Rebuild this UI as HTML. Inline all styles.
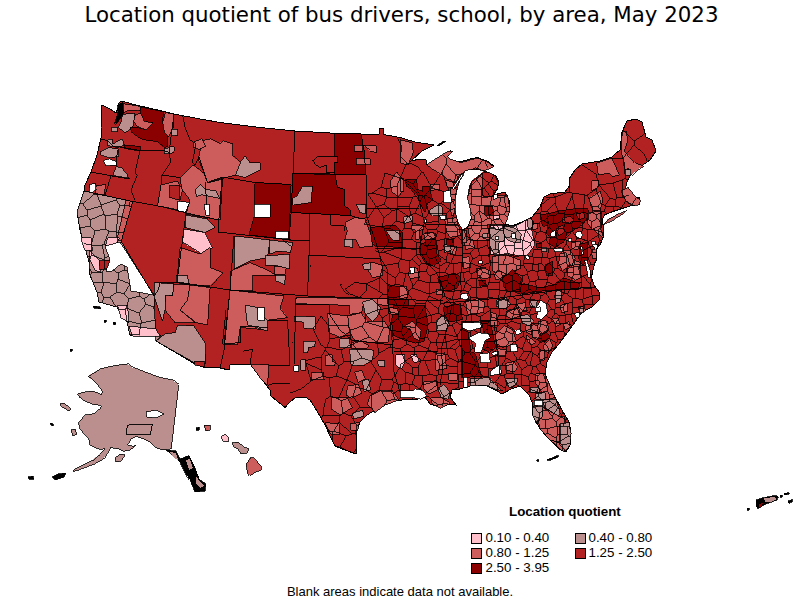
<!DOCTYPE html>
<html><head><meta charset="utf-8"><title>Location quotient of bus drivers, school, by area, May 2023</title>
<style>
html,body{margin:0;padding:0;background:#fff;}
body{width:800px;height:600px;position:relative;overflow:hidden;font-family:"Liberation Sans",sans-serif;color:#000;}
.title{position:absolute;left:1.5px;top:1px;width:800px;text-align:center;font-family:"DejaVu Sans",sans-serif;font-size:21.33px;line-height:28px;white-space:nowrap;}
.lt{position:absolute;left:509px;top:504px;font-weight:bold;font-size:13.33px;line-height:16px;white-space:nowrap;}
.li{position:absolute;font-size:13.33px;line-height:14px;white-space:nowrap;}
.sw{position:absolute;width:8.5px;height:8.5px;border:1px solid #000;}
.foot{position:absolute;left:0;top:584px;width:800px;text-align:center;font-size:13px;line-height:16px;white-space:nowrap;}
</style></head><body>
<svg width="800" height="600" viewBox="0 0 800 600" style="position:absolute;left:0;top:0" shape-rendering="crispEdges">
<defs><clipPath id="usclip"><polygon points="102,105 110,109 116,113 118,108 119,103 121,101 140,106 160,110.5 174,114 200,119 220,122.5 260,127.5 295,131 330,133 361,134 379,134 379.5,128 383,128 383.5,134.5 400,137.5 415,142 434,145 422,151 411,161 420,159 426,160 427,165 442,156 450,151 447,159 460,162 470,159 477,157.5 487,161 494,166 485,168 484,171 496,176 499,182 497,190 492,196 497,194 505,192 509,200 510,210 507,217 505,224 512,226 522,222 532,217 540,207 544,197 550,194 565,192 570,185 569,179 575,170 582,164 600,161 612,157 615,154 620,150 622,132 627,121 636,119 642,122 646,137 652,140 656,151 650,160 640,167 632,172 627,182 625,190 630,197 639,197 640,204 632,205.5 625,207.5 617.5,210 610,212.5 604.5,215 602.5,219.5 603,225 603.75,233.75 602.5,238.75 600,245 597.5,247.5 596.25,250 596.9,255 596.25,260 594.4,263.75 593.1,270 591.5,277 594,285 599,292 600,299 592,307 582,312 575,322 565,336 559,344 552,352 547,362 545,374 549,384 555,397 562,410 569,422 571,432 570,445 566,452 559,449 550,440 541,430 536,422 532,412 532,402 529,395 520,386 511,389 502,394 497,391 485,385 470,386 460,389 452,390 450,397 456,405 450,404 440,407 430,404 425,397 415,400 410,399 395,401 382,406 367,415 360,422 356,432 357,445 356,454 345,450 335,446 332,440 325,425 317,411 310,400 305,397 296,397 290,402 285,407.5 271,396 270,390 260,377 250,364 230,365 229,370 220,368 204,367.5 195,364 156,341 161,336 130,335 127,322 117,307 99,302 97,292 90,275 89,262 85,247 80,230 77,212 84,191 85,185 91,172 97,155 101,138 101,128"/></clipPath></defs>
<polygon points="102,105 110,109 116,113 118,108 119,103 121,101 140,106 160,110.5 174,114 200,119 220,122.5 260,127.5 295,131 330,133 361,134 379,134 379.5,128 383,128 383.5,134.5 400,137.5 415,142 434,145 422,151 411,161 420,159 426,160 427,165 442,156 450,151 447,159 460,162 470,159 477,157.5 487,161 494,166 485,168 484,171 496,176 499,182 497,190 492,196 497,194 505,192 509,200 510,210 507,217 505,224 512,226 522,222 532,217 540,207 544,197 550,194 565,192 570,185 569,179 575,170 582,164 600,161 612,157 615,154 620,150 622,132 627,121 636,119 642,122 646,137 652,140 656,151 650,160 640,167 632,172 627,182 625,190 630,197 639,197 640,204 632,205.5 625,207.5 617.5,210 610,212.5 604.5,215 602.5,219.5 603,225 603.75,233.75 602.5,238.75 600,245 597.5,247.5 596.25,250 596.9,255 596.25,260 594.4,263.75 593.1,270 591.5,277 594,285 599,292 600,299 592,307 582,312 575,322 565,336 559,344 552,352 547,362 545,374 549,384 555,397 562,410 569,422 571,432 570,445 566,452 559,449 550,440 541,430 536,422 532,412 532,402 529,395 520,386 511,389 502,394 497,391 485,385 470,386 460,389 452,390 450,397 456,405 450,404 440,407 430,404 425,397 415,400 410,399 395,401 382,406 367,415 360,422 356,432 357,445 356,454 345,450 335,446 332,440 325,425 317,411 310,400 305,397 296,397 290,402 285,407.5 271,396 270,390 260,377 250,364 230,365 229,370 220,368 204,367.5 195,364 156,341 161,336 130,335 127,322 117,307 99,302 97,292 90,275 89,262 85,247 80,230 77,212 84,191 85,185 91,172 97,155 101,138 101,128" fill="#B22222" stroke="#000" stroke-width="1"/>
<polygon points="84,191 132.5,201.5 121,241 154,296 156,341 161,336 130,335 127,322 117,307 99,302 97,292 90,275 89,262 85,247 80,230 77,212" fill="#BC8F8F" stroke="#000" stroke-width="0.8"/>
<polygon points="126,200 132.5,201.5 121,241 117,239" fill="#CD5C5C" stroke="#000" stroke-width="0.8"/>
<polygon points="81,237.5 91,237.5 92.5,250 85,250" fill="#FFC0CB" stroke="#000" stroke-width="0.8"/>
<polygon points="107.5,237.5 119,237.5 116,245 105,246" fill="#FFC0CB" stroke="#000" stroke-width="0.8"/>
<polygon points="89,250 99,260 101,272.5 95,270 90,260" fill="#FFC0CB" stroke="#000" stroke-width="0.8"/>
<polygon points="99,261 109,260 109,267.5 100,270" fill="#B22222" stroke="#000" stroke-width="0.8"/>
<polygon points="117.5,305 127.5,305 129,322.5 121,318" fill="#FFC0CB" stroke="#000" stroke-width="0.8"/>
<polygon points="129,326 156,329 160,336 132.5,336" fill="#FFC0CB" stroke="#000" stroke-width="0.8"/>
<polygon points="123.25,103.75 140.75,106.4 139.9,110.75 130.25,110 123.25,112.5" fill="#CD5C5C" stroke="#000" stroke-width="0.8"/>
<polygon points="122.4,114.25 134.6,113.4 133.75,124.75 129.4,130 125,132.6 118,127.4 121.5,121.25" fill="#BC8F8F" stroke="#000" stroke-width="0.8"/>
<polygon points="111.9,127.4 117.1,127.4 117.1,131.75 111.9,131.75" fill="#BC8F8F" stroke="#000" stroke-width="0.8"/>
<polygon points="140.75,107.25 163.5,111.6 162.6,121.25 167.9,132.6 167.9,145.75 163.5,147.5 156.5,141.4 147.75,140.5 140.75,138.75 132,132.6 130.25,127.4 137.25,127.4 146,130 153,123 144.25,121.25 140.75,113.4" fill="#8B0000" stroke="#000" stroke-width="0.8"/>
<polygon points="135.5,114.25 140.75,113.4 144.25,121.25 153,123 146,130 137.25,126.5 133.75,121.25" fill="#CD5C5C" stroke="#000" stroke-width="0.8"/>
<polygon points="165.25,112.5 174,114.25 173.1,128.25 168.75,137 164.4,132.6 162.6,121.25" fill="#CD5C5C" stroke="#000" stroke-width="0.8"/>
<polygon points="171.4,129 177.5,129 177.5,135.25 171.4,136" fill="#BC8F8F" stroke="#000" stroke-width="0.8"/>
<polygon points="164.4,148.4 167.9,148.4 168.75,146.6 174,146.6 174,151 170.5,153.6 164.4,153.6" fill="#BC8F8F" stroke="#000" stroke-width="0.8"/>
<polygon points="124.1,144.9 140.75,146.6 139.9,151 124.1,148.4" fill="#8B0000" stroke="#000" stroke-width="0.8"/>
<polygon points="107.5,139.6 111.9,138.75 112.75,144 122.4,138.75 124.1,144.9 118,147.5 111.9,146.6 107.5,145.75" fill="#BC8F8F" stroke="#000" stroke-width="0.8"/>
<polygon points="117.5,105.5 122.5,102 123.25,114 118,121.5 114.5,124 117,116 118.5,110" fill="#000" stroke="#000" stroke-width="0.8"/>
<polygon points="100.5,151 107.5,147.5 118,149.25 118.9,156.25 109.25,158 100.5,155.4" fill="#BC8F8F" stroke="#000" stroke-width="0.8"/>
<polygon points="116.25,166.75 121.5,167.6 126.75,173.75 128.5,178.1 112.75,175.5" fill="#BC8F8F" stroke="#000" stroke-width="0.8"/>
<polygon points="96.1,186 105.75,184.25 104,194.75 95.25,193.9" fill="#CD5C5C" stroke="#000" stroke-width="0.8"/>
<polygon points="161,185 177.5,181 182.5,190 180,200 177.5,210 157.5,206" fill="#CD5C5C" stroke="#000" stroke-width="0.8"/>
<polygon points="169,186 180,185 179,200 170,197.5" fill="#B22222" stroke="#000" stroke-width="0.8"/>
<polygon points="180,177.5 192.5,165 204,174 207.5,182.5 222.5,179 220,220 186,214 190,200 182.5,190" fill="#CD5C5C" stroke="#000" stroke-width="0.8"/>
<polygon points="195,189.5 200.25,184.25 205.5,189.5 216,191.25 219.5,198.25 210.75,196.5 202,194.75 196.75,196.5" fill="#BC8F8F" stroke="#000" stroke-width="0.8"/>
<polygon points="202,140.5 210.75,138.75 219.5,143.1 223,140.5 232.5,144 232.5,156 240,162.5 235,175 222.5,178 207.5,182.5 203.75,172 198.5,160 199.4,152.75" fill="#CD5C5C" stroke="#000" stroke-width="0.8"/>
<polygon points="240,162.5 245,156 250,162.5 260,162.5 260,170 245,177.5 235,175" fill="#BC8F8F" stroke="#000" stroke-width="0.8"/>
<polygon points="193.25,142.25 202,138.75 205.5,145.75 198.5,149.25 193.25,147.5" fill="#CD5C5C" stroke="#000" stroke-width="0.8"/>
<polygon points="186,215 207.5,219 215,227.5 205,232.5 185,227.5" fill="#BC8F8F" stroke="#000" stroke-width="0.8"/>
<polygon points="184,229 205,232.5 212.5,247.5 201,254 182.5,242.5" fill="#FFC0CB" stroke="#000" stroke-width="0.8"/>
<polygon points="180,247.5 200,254 210,247.5 210,267.5 222.5,272.5 210,286 190,285 176,282.5 177.5,275" fill="#CD5C5C" stroke="#000" stroke-width="0.8"/>
<polygon points="176,275 187.5,276 189,284 176,282.5" fill="#BC8F8F" stroke="#000" stroke-width="0.8"/>
<polygon points="154,282.5 174,284 172.5,296 166,295 165,310 162.5,321 154,296" fill="#BC8F8F" stroke="#000" stroke-width="0.8"/>
<polygon points="174,284 190,285 187.5,300 180,310 195,322.5 175,322.5 165,310 166,295 172.5,296" fill="#CD5C5C" stroke="#000" stroke-width="0.8"/>
<polygon points="190,285 210,287.5 207.5,325 196,322.5 180,310 187.5,300" fill="#CD5C5C" stroke="#000" stroke-width="0.8"/>
<polygon points="156,341 165,334 175,332.5 177.5,325 194,326 206,344 205,364 194,362.5" fill="#BC8F8F" stroke="#000" stroke-width="0.8"/>
<polygon points="194,361 204,361 204,367 195,365" fill="#B22222" stroke="#000" stroke-width="0.8"/>
<polygon points="602.5,224.5 607.5,219.5 616.25,215 625,211 626.5,209.5 622,214.5 613.75,219.5 607.5,222.5" fill="#CD5C5C" stroke="#000" stroke-width="0.8"/>
<polygon points="334,133.5 361,134 364,150 366,175 334,174 334,162.5 337.5,162.5 337.5,156 334,156" fill="#8B0000" stroke="#000" stroke-width="0.8"/>
<polygon points="354,145 362.5,145 362.5,151 354,151" fill="#CD5C5C" stroke="#000" stroke-width="0.8"/>
<polygon points="356,158 370,159 370,165 356,164.5" fill="#CD5C5C" stroke="#000" stroke-width="0.8"/>
<polygon points="362.5,145 376,146 376,152.5 370,151" fill="#CD5C5C" stroke="#000" stroke-width="0.8"/>
<polygon points="293,173 335,175 337.5,187.5 345,190 344,205 350,210 350,215.5 291,212.5" fill="#8B0000" stroke="#000" stroke-width="0.8"/>
<polygon points="292.5,197.5 297.5,195 302.5,186 312.5,186 311,202.5 292.5,205" fill="#BC8F8F" stroke="#000" stroke-width="0.8"/>
<polygon points="356,204 366,205 365,214 360,212.5" fill="#BC8F8F" stroke="#000" stroke-width="0.8"/>
<polygon points="255,182.5 291,184.5 289,239.5 249,235 254,217" fill="#8B0000" stroke="#000" stroke-width="0.8"/>
<polygon points="370,227.5 395,225 402.5,232.5 402.5,247.5 375,246 370,237.5" fill="#8B0000" stroke="#000" stroke-width="0.8"/>
<polygon points="386,231 399,230 400,240 392.5,240" fill="#BC8F8F" stroke="#000" stroke-width="0.8"/>
<polygon points="345,222.5 355,217.5 365,219 371,235 372.5,246 360,247.5 356,240 345,239 347.5,230" fill="#CD5C5C" stroke="#000" stroke-width="0.8"/>
<polygon points="344,239 352.5,239 352.5,247.5 344,246" fill="#BC8F8F" stroke="#000" stroke-width="0.8"/>
<polygon points="235,236 270,240 267.5,257.5 250,261 234,269 234,257.5" fill="#BC8F8F" stroke="#000" stroke-width="0.8"/>
<polygon points="269,240 292.5,242.5 290,252.5 277.5,251 270,254" fill="#BC8F8F" stroke="#000" stroke-width="0.8"/>
<polygon points="265,256 290,254 289,269 274,265 265,265" fill="#BC8F8F" stroke="#000" stroke-width="0.8"/>
<polygon points="274,266 286,267.5 285,274 275,274" fill="#CD5C5C" stroke="#000" stroke-width="0.8"/>
<polygon points="275,275 285.5,275 284.5,285 275.5,281" fill="#BC8F8F" stroke="#000" stroke-width="0.8"/>
<polygon points="231,271 250,262.5 265,269 276,275 252.5,275 252.5,291 230,290" fill="#CD5C5C" stroke="#000" stroke-width="0.8"/>
<polygon points="230,290 284,296 280,307.5 287.5,317.5 267.5,320 267.5,330 240,327.5 237.5,345 224,344" fill="#CD5C5C" stroke="#000" stroke-width="0.8"/>
<polygon points="245,305 257.5,307.5 267.5,320 267.5,331 247.5,325" fill="#BC8F8F" stroke="#000" stroke-width="0.8"/>
<polygon points="362.5,264 372.5,262.5 382.5,266 382.5,275 372.5,277.5 367.5,269" fill="#CD5C5C" stroke="#000" stroke-width="0.8"/>
<polygon points="362.5,264 370,262.5 371,269 364,269" fill="#BC8F8F" stroke="#000" stroke-width="0.8"/>
<polygon points="331,397.5 347.5,397.5 352.5,407.5 340,415 331,409" fill="#CD5C5C" stroke="#000" stroke-width="0.8"/>
<polygon points="370,396 382.5,390 392.5,391 399,400 385,405 375,412.5 367.5,404" fill="#CD5C5C" stroke="#000" stroke-width="0.8"/>
<polygon points="352.5,412.5 362.5,410 364,416 354,419" fill="#BC8F8F" stroke="#000" stroke-width="0.8"/>
<polygon points="325,422.5 339,424 339,435 331,434" fill="#CD5C5C" stroke="#000" stroke-width="0.8"/>
<polygon points="350,424 359,422.5 357.5,430 351,430" fill="#CD5C5C" stroke="#000" stroke-width="0.8"/>
<polygon points="471,185 482.5,172.5 482.5,196 492.5,196 507.5,195 510,210 507.5,217.5 505,224 467.5,226 471,217.5 469,205 467.5,197.5" fill="#CD5C5C" stroke="#000" stroke-width="0.8"/>
<polygon points="484,206 492.5,206 494,215 485,215" fill="#8B0000" stroke="#000" stroke-width="0.8"/>
<polygon points="467.5,226 487.5,225 490,240 470,240" fill="#CD5C5C" stroke="#000" stroke-width="0.8"/>
<polygon points="515,292.5 522.5,283.5 539,288 552.5,285 563,277.5 579.5,283.5 578,289.5 560,289.5 540.5,291 519.5,294" fill="#8B0000" stroke="#000" stroke-width="0.8"/>
<polygon points="470,379 490,377.5 495,384 502.5,391 495,389 485,385 470,386" fill="#BC8F8F" stroke="#000" stroke-width="0.8"/>
<polygon points="505,379 517.5,379 511,387.5 507.5,386" fill="#BC8F8F" stroke="#000" stroke-width="0.8"/>
<polygon points="536,375 545,374 555,397.5 545,400 540,387.5" fill="#CD5C5C" stroke="#000" stroke-width="0.8"/>
<polygon points="529,389 539,387.5 540,392.5 530,392.5" fill="#BC8F8F" stroke="#000" stroke-width="0.8"/>
<polygon points="535,394 545,392.5 545,399 536,399" fill="#BC8F8F" stroke="#000" stroke-width="0.8"/>
<polygon points="542.5,400 556,399 560,412.5 557.5,416 545,407.5" fill="#BC8F8F" stroke="#000" stroke-width="0.8"/>
<polygon points="532.5,406 542.5,406 542.5,416 536,422.5 532.5,415" fill="#BC8F8F" stroke="#000" stroke-width="0.8"/>
<polygon points="542.5,407.5 557.5,416 564,416 566,424 559,425 559,442.5 550,440 541,430 537.5,422.5 542.5,416" fill="#CD5C5C" stroke="#000" stroke-width="0.8"/>
<polygon points="560,424 569,422.5 571,432.5 570,445 566,450 560,442.5" fill="#BC8F8F" stroke="#000" stroke-width="0.8"/>
<polygon points="550,440 559,442.5 566,450 562.5,451" fill="#CD5C5C" stroke="#000" stroke-width="0.8"/>
<polygon points="87.5,376.25 100,368.75 117.5,365 127.5,363.75 132.5,367.5 140,370 150,373.75 160,377.5 172.5,380 178.75,385 171.25,448.75 163.75,450 157.5,448.75 150,442.5 142.5,438.75 136.25,436.25 131.25,438.75 127.5,445 132.5,446.25 136.25,445 130,450 122.5,451.25 117.5,448.75 110,447.5 107.5,452.5 103.75,458.75 95,463.75 87.5,466.25 77.5,470 72.5,471.25 75,468.75 85,463.75 92.5,460 100,453.75 105,448.75 100,449.5 95,447.5 90,445 88.75,438.75 83.75,433.75 80,428.75 78.75,422.5 85,415 93.75,413.75 100,408.75 101.25,405.5 93.75,404.5 85,401.25 80,397.5 77.5,393.75 85,391.75 93.75,391.25 101.25,394.5 102.5,391.25 98.75,386.25 93.75,381.25" fill="#BC8F8F" stroke="#000" stroke-width="0.8"/>
<polygon points="166,450 176,451 180,459 189,455.5 195,467.5 200,480 206,484 205,491 195,492 190,480 185,472.5 180,462.5 172.5,455" fill="#000" stroke="#000" stroke-width="0.8"/>
<polygon points="170,452 176,453 178,460 174,458" fill="#BC8F8F"/>
<polygon points="186,460 190,459 193,468 189,470" fill="#BC8F8F"/>
<polygon points="196,476 200,482 204,486 200,488 196,484" fill="#BC8F8F"/>
<polygon points="60,404 64,403 71,409 69,411 62,407" fill="#BC8F8F" stroke="#000" stroke-width="0.8"/>
<polygon points="71,430 75,429 77,434 73,436" fill="#BC8F8F" stroke="#000" stroke-width="0.8"/>
<polygon points="115,458 120,454 125,455 121,461 116,462" fill="#BC8F8F" stroke="#000" stroke-width="0.8"/>
<polygon points="52,477 58,474 66,473 64,477 55,480" fill="#000" stroke="#000" stroke-width="0.8"/>
<polygon points="28,477 33,476 34,479 29,479" fill="#000" stroke="#000" stroke-width="0.8"/>
<polygon points="70,349 72,349 72,351 70,351" fill="#000" stroke="#000" stroke-width="0.8"/>
<polygon points="50,423 53,424 53,426 51,425" fill="#000" stroke="#000" stroke-width="0.8"/>
<polygon points="204,425 210,425 210,430 206,431" fill="#CD5C5C" stroke="#000" stroke-width="0.8"/>
<polygon points="196,428 199,427 199,430 196,430" fill="#000" stroke="#000" stroke-width="0.8"/>
<polygon points="221,437 225,434 229,438 228,442 223,441" fill="#FFC0CB" stroke="#000" stroke-width="0.8"/>
<polygon points="232,443 238,442 244,447 249,449 247,453 241,454 238,449 234,447" fill="#BC8F8F" stroke="#000" stroke-width="0.8"/>
<polygon points="250,457.5 254,458 261,466 261,470 255,472.5 250,476 247.5,472.5 246,464" fill="#CD5C5C" stroke="#000" stroke-width="0.8"/>
<polygon points="756,500 762,498 775,495.5 778,496.5 777,500 766,504 758,508.5 756,506" fill="#000" stroke="#000" stroke-width="0.8"/>
<polygon points="764,498.5 775,496.5 776,499.5 772,501.5 765,501.5" fill="#BC8F8F"/>
<polygon points="759,504 763,503 762,506 759,507" fill="#8B0000"/>
<polygon points="747,508 749,508 749,510 747,510" fill="#000" stroke="#000" stroke-width="0.8"/>
<polygon points="784,493.5 789,492.5 789,494 784,495" fill="#000" stroke="#000" stroke-width="0.8"/>
<polygon points="788,501 792.5,499.5 792,502 788.5,503" fill="#000" stroke="#000" stroke-width="0.8"/>
<polygon points="780,495 782,495 782,497 780,497" fill="#000" stroke="#000" stroke-width="0.8"/>
<polygon points="547,459.5 552,458 557,455.5 558.5,456 557,457.5 552,459.5 547.5,460.5" fill="#000" stroke="#000" stroke-width="0.8"/>
<polygon points="536.5,459.5 538.5,459.5 538.5,461 536.5,461" fill="#000" stroke="#000" stroke-width="0.8"/>
<polygon points="93,306 100,307 101,309 94,308" fill="#000" stroke="#000" stroke-width="0.8"/>
<polygon points="104,320 106,320 106,322 104,322" fill="#000" stroke="#000" stroke-width="0.8"/>
<polygon points="113,322 116,323 115,325 113,324" fill="#000" stroke="#000" stroke-width="0.8"/>
<polygon points="555.5,291 561.5,290.25 561.5,298.5 557,303 555.5,298.5" fill="#BC8F8F" stroke="#000" stroke-width="0.8"/>
<polygon points="400,139.6 412.4,143 413.25,152.75 408,165 401,163.25" fill="#CD5C5C" stroke="#000" stroke-width="0.8"/>
<polygon points="390.5,180.75 396.6,172 402.75,179 403.6,189.5 397.5,196.5 391.4,191.25" fill="#CD5C5C" stroke="#000" stroke-width="0.8"/>
<polygon points="405.4,179 416.75,180 417.6,189.5 422.9,191.25 422.9,186 429,186 432.5,200 427.25,203.5 424.6,212.25 421,205.25 417.6,196.5 411.5,189.5 406.25,186" fill="#8B0000" stroke="#000" stroke-width="0.8"/>
<polygon points="430,184.25 439.5,184.25 439.5,189.5 430,190.4" fill="#CD5C5C" stroke="#000" stroke-width="0.8"/>
<polygon points="445.6,180 453.5,182.5 455.25,187.75 447.4,187.75" fill="#CD5C5C" stroke="#000" stroke-width="0.8"/>
<polygon points="429,210.5 438.6,204.4 442,207 442,215.75 432.5,215.75" fill="#BC8F8F" stroke="#000" stroke-width="0.8"/>
<polygon points="403.6,216.6 412.4,215.75 412.4,221 403.6,223.6" fill="#BC8F8F" stroke="#000" stroke-width="0.8"/>
<polygon points="444.75,219.25 457,217.5 457,229.75 446.5,233.25" fill="#CD5C5C" stroke="#000" stroke-width="0.8"/>
<polygon points="450,203.5 455.25,200 457,212.25 451.75,215.75" fill="#CD5C5C" stroke="#000" stroke-width="0.8"/>
<polygon points="427,165 430,162.4 448.25,151 452.6,151 447.4,156.25 450,159 460.5,162.4 477,158 486.75,161.5 493.75,166.75 484,171 475.4,167.6 467.5,171 460.5,173.75 455.25,182.5 451.75,180.75 446.5,179 432.5,169.4" fill="#CD5C5C" stroke="#000" stroke-width="0.8"/>
<polygon points="482.4,173.75 485,171 495.5,175.5 498.5,182.5 496.5,190 492,196 486.75,197.4 482.4,194.75" fill="#B22222" stroke="#000" stroke-width="0.8"/>
<polygon points="493.75,215.75 499,215.75 499,219.25 493.75,219.25" fill="#FFC0CB" stroke="#000" stroke-width="0.8"/>
<polygon points="499,225.4 506,225.4 506,229.75 499,229.75" fill="#FFC0CB" stroke="#000" stroke-width="0.8"/>
<polygon points="411.5,225 423.75,225 423.75,229.4 419.4,230.25 419.4,239 415,239 415,230.25 411.5,229.4" fill="#CD5C5C" stroke="#000" stroke-width="0.8"/>
<polygon points="421,244.25 432.5,240 437.75,246 436,253 441.25,260 432.5,266 426.4,264.4 420.25,254.75" fill="#8B0000" stroke="#000" stroke-width="0.8"/>
<polygon points="445.6,225 458.75,225 460.5,235.5 450,237.25 446.5,232" fill="#CD5C5C" stroke="#000" stroke-width="0.8"/>
<polygon points="425.5,232 436,233.75 434.25,239 424.6,238" fill="#CD5C5C" stroke="#000" stroke-width="0.8"/>
<polygon points="443.9,245 450,244.25 450.9,251.25 444.75,252" fill="#BC8F8F" stroke="#000" stroke-width="0.8"/>
<polygon points="450.9,246 457,246 455.25,254.75 450,254" fill="#CD5C5C" stroke="#000" stroke-width="0.8"/>
<polygon points="408,273 414,273 414,267 417.6,268.75 419.4,277.5 409.75,278.4" fill="#CD5C5C" stroke="#000" stroke-width="0.8"/>
<polygon points="437.75,277.5 455.25,273 460.5,277.5 457,288 446.5,291.5 440.4,284.5" fill="#8B0000" stroke="#000" stroke-width="0.8"/>
<polygon points="436,289 443.9,289 442,294 436,294" fill="#CD5C5C" stroke="#000" stroke-width="0.8"/>
<polygon points="465.75,302 478,298.5 485,302.9 483.25,312.5 467.5,314.25" fill="#CD5C5C" stroke="#000" stroke-width="0.8"/>
<polygon points="496.4,300.25 506,297.6 510.4,303.75 502.5,309 496.4,306.4" fill="#BC8F8F" stroke="#000" stroke-width="0.8"/>
<polygon points="387.9,284.5 399.25,287 400,298.5 408.9,300.25 408.9,307.25 387.9,303.75" fill="#8B0000" stroke="#000" stroke-width="0.8"/>
<polygon points="399.25,287 406.25,286.25 408,297.6 400,298.5" fill="#CD5C5C" stroke="#000" stroke-width="0.8"/>
<polygon points="388.75,307.25 397.5,309 399.25,314.25 390.5,314.25" fill="#CD5C5C" stroke="#000" stroke-width="0.8"/>
<polygon points="443,307.25 460.5,303.75 462.25,319.5 450,322 444.75,316" fill="#8B0000" stroke="#000" stroke-width="0.8"/>
<polygon points="439.5,317.75 446.5,316.9 448.25,323.9 437.75,328.25" fill="#BC8F8F" stroke="#000" stroke-width="0.8"/>
<polygon points="476.25,268.75 485,267 486.75,275.75 478,277.5" fill="#CD5C5C" stroke="#000" stroke-width="0.8"/>
<polygon points="492,256.5 506,254.75 520,260 520,268.75 502.5,275.75 492,270.5" fill="#CD5C5C" stroke="#000" stroke-width="0.8"/>
<polygon points="502.5,277.5 513,269.6 522.5,280 520,291.5 509.5,292 504,287" fill="#8B0000" stroke="#000" stroke-width="0.8"/>
<polygon points="464,240.75 472.75,239 474.5,247.75 465.75,249.5" fill="#CD5C5C" stroke="#000" stroke-width="0.8"/>
<polygon points="462.25,258.25 469.25,256.5 471,267 464,268.75" fill="#CD5C5C" stroke="#000" stroke-width="0.8"/>
<polygon points="436,320.5 443,316 450,324 446.5,330 436,331" fill="#BC8F8F" stroke="#000" stroke-width="0.8"/>
<polygon points="435,353.75 444.75,352.9 446.5,368.6 436,370.4" fill="#CD5C5C" stroke="#000" stroke-width="0.8"/>
<polygon points="448.25,373.9 457,373.9 457,380 449,380" fill="#CD5C5C" stroke="#000" stroke-width="0.8"/>
<polygon points="423.75,381.75 436,380.9 437.75,389.6 429,394 423.75,388.75" fill="#CD5C5C" stroke="#000" stroke-width="0.8"/>
<polygon points="437.75,388.75 443.9,384.4 450,392.25 448.25,399.25 441.25,397.5" fill="#BC8F8F" stroke="#000" stroke-width="0.8"/>
<polygon points="430.75,397.5 441.25,397.5 450,402.75 439.5,408 432.5,404.5" fill="#CD5C5C" stroke="#000" stroke-width="0.8"/>
<polygon points="461.4,328.4 467.5,328.4 471,352 475.4,353.75 481.5,376.5 461.4,377.4" fill="#8B0000" stroke="#000" stroke-width="0.8"/>
<polygon points="481.5,321.4 490.25,321.4 495.5,346.75 488.5,352 482.4,348.5 485,336.25" fill="#8B0000" stroke="#000" stroke-width="0.8"/>
<polygon points="596.5,162.75 612.25,157.5 614,162.75 619.25,175 612.25,176.75 608.75,173.25 598.25,175" fill="#CD5C5C" stroke="#000" stroke-width="0.8"/>
<polygon points="621,140 623,131 626,131 628,140 624.5,150.5 635,162.75 643.75,166.25 638.5,169 631.5,175 628,168 625.4,173.25 624.5,162.75 621,150.5" fill="#CD5C5C" stroke="#000" stroke-width="0.8"/>
<polygon points="625.4,169.75 630.6,169.75 630.6,175 625.4,175" fill="#BC8F8F" stroke="#000" stroke-width="0.8"/>
<polygon points="621,190.75 628,187.25 635,196 640.25,200.4 639.4,204.75 631.5,205.6 626.25,201.25" fill="#CD5C5C" stroke="#000" stroke-width="0.8"/>
<polygon points="589.5,197.75 600,190.75 602.6,199.5 600,210 593,210 590.4,204.75" fill="#CD5C5C" stroke="#000" stroke-width="0.8"/>
<polygon points="592,181 599,180.25 598.25,187.25 591.25,190.75" fill="#CD5C5C" stroke="#000" stroke-width="0.8"/>
<polygon points="592,215.25 601.75,213.5 600.9,229.25 603.5,238 594.75,231 591.25,222.25" fill="#CD5C5C" stroke="#000" stroke-width="0.8"/>
<polygon points="497,302 504.9,298.5 511,303.75 505.75,309 498.75,308" fill="#BC8F8F" stroke="#000" stroke-width="0.8"/>
<polygon points="529.4,301 537.25,300.25 536.4,307.25 530.25,306.4" fill="#BC8F8F" stroke="#000" stroke-width="0.8"/>
<polygon points="520.6,316 527.6,314.25 533.75,321.25 528.5,325.6 522.4,323" fill="#BC8F8F" stroke="#000" stroke-width="0.8"/>
<polygon points="554.75,295 561.75,295 560,302 555.6,303.75" fill="#BC8F8F" stroke="#000" stroke-width="0.8"/>
<polygon points="505.75,379 518,378 516.25,384.25 509.25,387.75" fill="#BC8F8F" stroke="#000" stroke-width="0.8"/>
<polygon points="530.25,387.75 539,386.9 539,392 531,392" fill="#BC8F8F" stroke="#000" stroke-width="0.8"/>
<polygon points="495.25,334.4 504,325.6 512.75,330 516.25,340.5 509.25,345.75 502.25,347.5 497,344" fill="#CD5C5C" stroke="#000" stroke-width="0.8"/>
<polygon points="525,326.5 533.75,324.75 540.75,326.5 547.75,321.25 547.75,331.75 539,337 532,335.25 526.75,332.6" fill="#CD5C5C" stroke="#000" stroke-width="0.8"/>
<polygon points="538,334.4 546,332.6 550.4,336 546,341.4 539.9,342.25 536.4,338.75" fill="#8B0000" stroke="#000" stroke-width="0.8"/>
<polygon points="543.4,345.75 549.5,339.6 553,345.75 548.6,352.75 544.25,351" fill="#CD5C5C" stroke="#000" stroke-width="0.8"/>
<polygon points="516.25,304.6 523.25,302.9 525,310.75 518,311.6" fill="#CD5C5C" stroke="#000" stroke-width="0.8"/>
<polygon points="505.75,363.25 514.5,361.5 518,366.75 514.5,372 506.6,370.25" fill="#CD5C5C" stroke="#000" stroke-width="0.8"/>
<polygon points="535.5,373.75 543.4,373.75 546.9,386 540.75,389.5 535.5,382.5" fill="#CD5C5C" stroke="#000" stroke-width="0.8"/>
<polygon points="539,349.25 544.25,351 545,359.75 539.9,361.5" fill="#CD5C5C" stroke="#000" stroke-width="0.8"/>
<polygon points="560,305.5 567,303.75 567.9,311.6 561.75,312.5" fill="#CD5C5C" stroke="#000" stroke-width="0.8"/>
<polygon points="563.5,323.9 568.75,321.25 570.5,327.4 565.25,330" fill="#CD5C5C" stroke="#000" stroke-width="0.8"/>
<polygon points="578.4,308 584.5,305.5 585.4,310.75 580,314.25" fill="#CD5C5C" stroke="#000" stroke-width="0.8"/>
<polygon points="510,310 520,307 522,315 513,318" fill="#CD5C5C" stroke="#000" stroke-width="0.8"/>
<polygon points="296,297.6 388,298.5 388,305.5 363.5,303.75 361.75,312.5 349.5,314.25 349.5,305.5 329.4,304.6 295.5,303.75" fill="#CD5C5C" stroke="#000" stroke-width="0.8"/>
<polygon points="327.6,313.4 347.75,316 349.5,331.75 340.75,337.9 329.4,332.6" fill="#CD5C5C" stroke="#000" stroke-width="0.8"/>
<polygon points="347.75,316 361.75,312.5 367,321.25 384.5,321.25 389.75,330 388,342.25 368.75,342.25 354.75,340.5 349.5,331.75" fill="#CD5C5C" stroke="#000" stroke-width="0.8"/>
<polygon points="362.6,302 372.25,299.4 381,308.1 377.5,316 372.25,321.25 365.25,314.25" fill="#BC8F8F" stroke="#000" stroke-width="0.8"/>
<polygon points="339.9,338.75 349.5,338.75 350.4,347.5 339.9,347.5" fill="#BC8F8F" stroke="#000" stroke-width="0.8"/>
<polygon points="393.25,305.5 424.75,305.5 428.25,323 427,330 423.75,341.5 415,343.25 405.5,340.5 393.25,335.25 391.5,321.25" fill="#8B0000" stroke="#000" stroke-width="0.8"/>
<polygon points="403.75,326.5 412.5,321.25 421.25,330 419.4,341 414,338 410.75,330" fill="#CD5C5C" stroke="#000" stroke-width="0.8"/>
<polygon points="388.75,307.25 397.5,309 399.25,314.25 390.5,314.25" fill="#CD5C5C" stroke="#000" stroke-width="0.8"/>
<polygon points="294.4,316 315.4,316.9 315.4,329.1 304,328.25 303.1,322.1 294.4,321.25" fill="#BC8F8F" stroke="#000" stroke-width="0.8"/>
<polygon points="303.1,341.4 315.4,341.4 314.5,346.6 308.4,347.5 307.5,352.75 303.1,352.75" fill="#BC8F8F" stroke="#000" stroke-width="0.8"/>
<polygon points="300.5,359.75 305.75,359.75 305.75,370.25 300.5,370.25" fill="#BC8F8F" stroke="#000" stroke-width="0.8"/>
<polygon points="325,355.4 332,354.5 332,361.5 335.5,362.4 334.6,365.9 325,365" fill="#CD5C5C" stroke="#000" stroke-width="0.8"/>
<polygon points="311,372.9 323.25,372 324.1,379.9 311,379.9" fill="#CD5C5C" stroke="#000" stroke-width="0.8"/>
<polygon points="349.5,349.25 374,350.1 372.25,359.75 363.5,365 351.25,365.9" fill="#BC8F8F" stroke="#000" stroke-width="0.8"/>
<polygon points="377.5,360.6 384.5,360.6 384.5,366.75 378.4,365.9" fill="#BC8F8F" stroke="#000" stroke-width="0.8"/>
<polygon points="395.9,354.5 404.6,354.5 404.6,362.4 401.1,369.4 395.9,365" fill="#FFC0CB" stroke="#000" stroke-width="0.8"/>
<polygon points="410.75,354.5 416.9,354.5 419.5,361.5 414.25,362.4" fill="#FFC0CB" stroke="#000" stroke-width="0.8"/>
<polygon points="351.25,342.25 361.75,341.4 368.75,345.75 367,348.4 351.25,348.4" fill="#CD5C5C" stroke="#000" stroke-width="0.8"/>
<polygon points="354.75,372 361.75,370.25 365.25,379 358.25,382.5" fill="#CD5C5C" stroke="#000" stroke-width="0.8"/>
<polygon points="362.6,380.75 368.75,379 370.5,389.5 363.5,391.25" fill="#BC8F8F" stroke="#000" stroke-width="0.8"/>
<polygon points="347.75,386 358.25,384.25 361.75,393 351.25,398.25 346,394.75" fill="#CD5C5C" stroke="#000" stroke-width="0.8"/>
<polygon points="250,364 269,365 267.5,385 260,377.5" fill="#CD5C5C" stroke="#000" stroke-width="0.8"/>
<polygon points="547.5,213.75 556.25,211.25 575,208.75 587.5,208.75 590,213.75 585,221.25 577.5,227.5 570,232.5 565,237.5 562.5,242.5 555,247.5 548.75,243.75 550,237.5 546.25,233.75 548.1,222.5" fill="#8B0000" stroke="#000" stroke-width="0.8"/>
<polygon points="562.5,217.5 570,216.25 573.75,220 567.5,223.75 562.5,222.5" fill="#B22222" stroke="#000" stroke-width="0.8"/>
<polygon points="576.25,213.75 583.75,212.5 585,217.5 578.75,220" fill="#B22222" stroke="#000" stroke-width="0.8"/>
<polygon points="556.25,228.75 562.5,225 565,231.25 558.75,236.25" fill="#B22222" stroke="#000" stroke-width="0.8"/>
<polygon points="540,215 548,213.75 547.5,225 542.5,226.25" fill="#8B0000" stroke="#000" stroke-width="0.8"/>
<polygon points="562.5,250 570,250 575,257.5 571.25,265 565,262.5 561.25,256.25" fill="#CD5C5C" stroke="#000" stroke-width="0.8"/>
<polygon points="571.25,242.5 580,241.25 581.25,247.5 575,250 571.25,247.5" fill="#CD5C5C" stroke="#000" stroke-width="0.8"/>
<polygon points="580,243.75 587.5,242.5 587.5,260 582.5,265 578.75,258.75" fill="#8B0000" stroke="#000" stroke-width="0.8"/>
<polygon points="587.5,212.5 600,211.25 601,225 592.5,228.75 587.5,222.5" fill="#CD5C5C" stroke="#000" stroke-width="0.8"/>
<polygon points="591.25,250 596.25,248.75 596.25,257.5 592.5,258.75" fill="#CD5C5C" stroke="#000" stroke-width="0.8"/>
<polygon points="527.5,218.75 531.9,217.5 532.5,227.5 528.1,228.75" fill="#BC8F8F" stroke="#000" stroke-width="0.8"/>
<polygon points="532.5,223.75 537.5,223.1 537.5,228.75 533.1,229.4" fill="#CD5C5C" stroke="#000" stroke-width="0.8"/>
<polygon points="541.25,246.9 546.9,247.5 546.9,251.9 541.9,251.25" fill="#BC8F8F" stroke="#000" stroke-width="0.8"/>
<polygon points="536.25,243.75 541.25,243.1 541.9,247.5 536.9,248.1" fill="#8B0000" stroke="#000" stroke-width="0.8"/>
<polygon points="545,265 552.5,261.25 552.5,275 546.25,275" fill="#8B0000" stroke="#000" stroke-width="0.8"/>
<polygon points="560,253.75 566.25,252.5 570,265 562.5,270 558.75,262.5" fill="#CD5C5C" stroke="#000" stroke-width="0.8"/>
<polygon points="573.75,260 580,262.5 577.5,275 570,273.75" fill="#CD5C5C" stroke="#000" stroke-width="0.8"/>
<polygon points="567.5,268 578,266 581,277.5 575,280.5 567.5,276" fill="#CD5C5C" stroke="#000" stroke-width="0.8"/>
<polygon points="477.5,268.75 483.75,268.1 490,271.25 490,277.5 482.5,278.75 477.5,275" fill="#CD5C5C" stroke="#000" stroke-width="0.8"/>
<polygon points="493.75,272.5 501.25,271.25 502.5,277.5 496.25,280" fill="#CD5C5C" stroke="#000" stroke-width="0.8"/>
<polygon points="478.75,280 485,280 486.25,285 480,286.25" fill="#8B0000" stroke="#000" stroke-width="0.8"/>
<polygon points="517.5,303.75 525,302.5 527.5,310 520,312.5" fill="#CD5C5C" stroke="#000" stroke-width="0.8"/>
<polygon points="508.75,310 515,308.75 516.25,315 508.75,315" fill="#CD5C5C" stroke="#000" stroke-width="0.8"/>
<polygon points="443.75,245 450,243.75 451.25,250 445,252.5" fill="#BC8F8F" stroke="#000" stroke-width="0.8"/>
<polygon points="450,187.5 456.25,188.75 455.6,198.75 451.25,200" fill="#CD5C5C" stroke="#000" stroke-width="0.8"/>
<polygon points="400,178.75 403.75,178.75 403.75,191.25 400,191.25" fill="#CD5C5C" stroke="#000" stroke-width="0.8"/>
<polygon points="482.5,233.75 487.5,233.1 488.1,237.5 483.1,238.1" fill="#BC8F8F" stroke="#000" stroke-width="0.8"/>
<polygon points="446.9,239.4 453.75,238.75 453.75,245 446.9,245" fill="#8B0000" stroke="#000" stroke-width="0.8"/>
<polygon points="425,240 435,239.4 435,245 425,245" fill="#8B0000" stroke="#000" stroke-width="0.8"/>
<polygon points="423.75,233.75 433.75,232.5 436.25,237.5 425,240" fill="#CD5C5C" stroke="#000" stroke-width="0.8"/>
<polygon points="506.25,311.25 517.5,308.75 520,316.25 511.25,318.75 506.25,316.25" fill="#CD5C5C" stroke="#000" stroke-width="0.8"/>
<polygon points="526.25,325 531.25,326.25 532.5,331.25 527.5,331.25 525,328.75" fill="#CD5C5C" stroke="#000" stroke-width="0.8"/>
<polygon points="538.75,321.25 546.25,320.6 548.75,328.75 542.5,332.5 537.5,327.5" fill="#CD5C5C" stroke="#000" stroke-width="0.8"/>
<polygon points="531.25,331.25 537.5,330 540,336.25 536.25,340 532.5,337.5" fill="#CD5C5C" stroke="#000" stroke-width="0.8"/>
<polygon points="526.25,335 531.25,338.75 536.25,342.5 531.25,345 527.5,341.25" fill="#CD5C5C" stroke="#000" stroke-width="0.8"/>
<polygon points="552.5,318.75 557.5,317.5 561.25,323.75 556.25,326.25" fill="#CD5C5C" stroke="#000" stroke-width="0.8"/>
<polygon points="579.4,308.75 583.1,308.1 583.1,312.5 580,313.1" fill="#BC8F8F" stroke="#000" stroke-width="0.8"/>
<polygon points="497.5,348.75 506.25,350 505,356.25 497.5,356.25" fill="#CD5C5C" stroke="#000" stroke-width="0.8"/>
<polygon points="490,312.5 496.25,313.75 497.5,325 490,325" fill="#CD5C5C" stroke="#000" stroke-width="0.8"/>
<polygon points="437,145.5 444,141 445.5,141.5 439,146" fill="#000" stroke="#000" stroke-width="0.8"/>
<polygon points="489.4,225.6 515,226.25 526.25,220 530,222.5 532.5,232.5 535,245 527.5,255 520,256 507.5,253.5 496.25,255 491,254" fill="#FFC0CB" stroke="#000" stroke-width="0.8"/>
<polygon points="489.4,226.9 497.5,227.5 498.75,230 503.75,227.5 505,240 498.75,242.5 498.75,252.5 493.75,253.75 490,246.25" fill="#BC8F8F" stroke="#000" stroke-width="0.8"/>
<polygon points="503.1,226.25 513.75,227.5 521.25,233.75 520,242.5 513.75,242.5 507.5,240 503.75,233.75" fill="#BC8F8F" stroke="#000" stroke-width="0.8"/>
<polygon points="493.75,225.6 502.5,225 503.1,227.5 498.1,230 493.75,227.5" fill="#FFC0CB" stroke="#000" stroke-width="0.8"/>
<polygon points="527.5,218.75 531.9,217.5 532.5,227.5 528.1,228.75" fill="#BC8F8F" stroke="#000" stroke-width="0.8"/>
<polygon points="461.25,230 466.25,230 466.9,242.5 461.25,243.1" fill="#CD5C5C" stroke="#000" stroke-width="0.8"/>
<path d="M313 329L321 345M321 316L328 325M321 316L313 329M327 347L330 339M327 347L326 348M326 348L321 345M328 325L330 339M311 381L323 376M311 381L306 363M306 363L321 370M321 370L323 376M305 361L318 357M326 348L325 350M293 342L292 342M325 350L321 357M321 357L318 357M306 363L305 361M321 357L321 370M364 224L376 206M368 194L376 206M365 315L377 310M377 300L377 310M377 310L377 310M368 194L372 193M376 206L377 207M377 207L384 204M384 204L387 197M372 193L387 197M385 173L381 187M372 193L381 187M677 254L677 263M676 272L673 266M673 266L677 263M387 294L383 294M387 294L390 287M390 287L380 277M380 292L379 278M380 292L383 294M380 277L379 278M389 297L387 294M389 297L388 308M388 308L377 310M377 300L383 294M366 284L379 278M366 284L380 292M396 284L395 278M396 284L390 287M380 277L382 269M395 278L382 269M396 284L403 286M395 278L400 272M400 272L406 274M403 286L406 274M446 262L440 266M446 262L446 260M438 255L446 260M438 255L435 257M440 266L435 257M446 262L450 263M439 272L445 272M439 272L439 269M445 272L450 263M440 266L439 269M381 187L386 189M387 197L387 197M387 197L386 189M387 197L397 197M386 189L397 186M397 197L397 186M385 173L400 178M397 186L400 178M400 178L400 178M400 178L407 163M400 156L407 163M387 117L406 108M387 117L401 127M401 127L406 108M404 101L408 104M408 104L406 108M674 104L674 104M678 130L668 128M678 130L675 148M676 272L674 276M679 283L674 279M674 276L674 279M680 408L673 418M674 420L673 418M676 434L676 442M677 445L676 442M674 420L674 424M389 297L393 298M393 298L408 294M403 286L409 291M409 291L408 294M541 466L532 473M531 482L532 473M516 470L521 469M531 482L521 469M327 347L341 350M325 350L339 366M341 350L344 362M339 366L344 362M388 308L391 312M377 310L382 318M382 318L391 312M570 333L573 329M570 333L572 340M573 329L579 334M572 340L579 338M579 334L579 338M676 328L688 323M676 328L674 332M674 332L675 335M675 357L674 349M674 349L687 347M675 335L673 340M673 340L687 347M632 336L632 339M632 336L642 332M633 341L632 339M633 341L639 343M639 343L645 340M645 340L642 332M648 341L645 340M648 341L654 333M651 329L654 333M651 329L642 331M642 332L642 331M654 333L654 333M672 341L672 348M672 341L666 340M666 340L665 349M672 348L668 350M668 350L665 349M673 340L672 341M674 349L672 348M674 359L668 355M674 359L675 357M668 355L668 350M661 350L665 349M661 350L661 357M668 355L664 358M664 358L661 357M658 348L662 340M658 348L652 348M651 345L652 348M651 345L659 339M659 339L662 340M664 339L662 340M664 339L666 340M661 350L658 348M657 360L661 357M657 360L650 356M650 350L650 356M650 350L652 348M639 343L639 349M648 341L651 345M650 350L639 349M654 333L659 339M340 285L342 284M311 267L310 265M382 266L382 268M345 292L349 295M345 292L340 285M328 325L347 325M382 269L382 268M275 234L292 247M400 272L398 263M398 263L382 266M382 266L382 266M418 280L413 286M418 280L418 273M413 286L408 273M418 273L410 271M408 273L410 271M406 274L408 273M412 288L409 291M412 288L413 286M377 207L384 218M384 204L392 211M392 211L384 218M397 197L397 197M397 197L397 207M397 207L397 209M392 211L397 209M438 255L439 251M439 251L444 249M446 260L448 253M444 249L448 253M421 241L420 242M421 241L428 235M420 242L427 247M428 235L433 239M427 247L433 239M439 251L436 248M435 257L430 259M436 248L428 250M428 250L426 254M430 259L426 254M420 272L419 266M420 272L426 271M419 266L422 263M426 271L429 264M422 263L429 263M429 264L429 263M429 283L418 280M429 283L430 282M430 282L430 276M430 276L426 271M418 273L420 272M439 272L439 272M439 269L429 264M439 272L430 276M430 259L429 263M412 259L409 261M412 259L416 255M416 250L417 254M416 250L401 247M409 261L401 259M417 254L416 255M401 247L401 259M401 259L401 259M410 271L409 261M419 266L412 259M422 263L416 255M417 243L420 242M417 243L416 250M428 250L427 247M426 254L417 254M398 263L401 259M401 247L384 252M401 247L401 247M384 252L401 259M397 197L413 197M397 207L409 206M413 197L409 206M397 209L397 209M397 209L408 216M409 216L408 216M409 216L411 215M409 206L411 215M400 156L402 147M402 147L396 135M401 127L402 129M396 135L402 129M407 163L410 163M402 129L404 130M427 139L424 141M418 167L410 163M427 139L429 138M438 151L429 138M668 128L666 130M648 129L666 130M648 129L648 125M652 120L648 125M652 120L647 103M644 86L643 100M647 103L643 100M591 111L596 112M596 112L610 108M610 108L611 106M611 106L618 92M614 323L608 326M614 323L614 317M608 326L604 323M604 323L610 315M614 317L610 315M598 315L600 323M598 315L609 314M604 323L600 323M600 323L600 323M609 314L610 315M672 427L667 427M672 427L675 434M667 427L666 435M675 434L668 437M668 437L666 435M673 418L670 416M674 424L672 427M663 426L670 416M663 426L667 427M676 434L675 434M668 441L676 442M668 441L668 437M581 315L572 313M581 315L580 323M580 323L574 326M572 313L571 314M571 314L574 326M574 326L574 326M584 313L583 306M584 313L581 315M583 306L573 308M573 308L572 313M565 314L571 314M565 314L565 315M565 315L565 323M565 323L574 326M582 300L575 298M582 300L584 305M584 305L583 306M573 308L572 302M572 302L573 299M573 299L575 298M583 299L584 288M583 299L582 300M576 290L575 298M576 290L582 287M584 288L582 287M541 350L549 350M541 350L537 346M549 350L544 341M537 346L542 340M544 341L542 340M320 423L320 420M311 381L301 389M301 389L290 393M320 420L323 415M323 415L323 411M323 411L326 399M305 456L317 463M317 463L322 473M425 306L417 319M425 306L431 315M417 319L431 315M393 298L400 310M391 312L398 314M398 314L400 310M408 294L408 294M408 294L403 307M400 310L403 307M416 303L408 294M416 303L413 309M403 307L413 309M512 334L515 331M512 334L506 331M506 331L508 325M515 331L508 325M512 341L515 342M512 341L509 342M515 342L518 347M507 351L513 352M507 351L506 347M506 347L509 342M513 352L518 347M515 342L523 336M523 336L526 339M526 339L522 349M522 349L518 347M571 341L576 348M571 341L572 340M581 341L579 338M581 341L580 347M580 347L576 348M571 341L566 343M572 353L576 348M572 353L564 350M564 350L566 343M549 338L551 333M549 338L556 343M551 333L555 332M555 332L558 340M556 343L558 340M565 333L563 339M565 333L570 333M563 339L566 343M584 332L588 332M584 332L581 323M581 323L589 323M590 331L589 324M590 331L588 332M589 323L589 324M588 339L581 341M588 339L588 332M579 334L584 332M573 329L574 326M580 323L581 323M584 313L586 314M586 314L590 316M590 316L589 323M598 332L598 332M598 332L600 323M598 332L590 331M600 323L589 324M589 341L588 339M589 341L596 343M596 343L598 332M597 314L590 316M597 314L598 315M609 391L608 382M609 391L605 393M605 393L602 393M602 393L600 390M600 390L600 387M600 387L602 382M602 382L606 380M606 380L608 382M606 406L610 401M606 406L601 398M610 401L605 393M601 398L602 393M590 394L590 400M590 394L600 390M590 400L594 401M594 401L601 398M590 394L589 392M589 392L592 384M592 384L600 387M599 359L606 356M599 359L601 365M606 356L607 356M607 356L608 366M608 366L605 367M605 367L603 367M601 365L603 367M607 378L600 372M607 378L608 375M605 367L608 375M603 367L600 372M607 378L606 380M602 382L595 375M600 372L595 375M609 349L605 342M609 349L597 349M605 342L597 343M597 343L597 348M597 348L597 349M597 358L597 349M597 358L599 359M606 356L609 349M609 349L609 349M613 339L607 336M613 339L618 334M618 334L615 330M615 330L608 332M608 332L606 334M606 334L607 336M615 325L615 330M615 325L625 325M625 325L626 330M626 330L620 334M620 334L618 334M614 323L615 325M608 326L608 332M598 332L606 334M596 343L597 343M605 342L607 336M679 283L677 288M670 281L674 279M670 281L669 289M669 289L671 290M677 288L671 290M664 339L665 332M654 333L660 330M660 330L665 332M651 329L651 325M656 321L661 324M656 321L651 324M651 324L651 325M660 330L661 324M674 332L668 330M668 330L665 332M656 321L656 316M645 317L651 324M645 317L647 315M656 316L647 315M656 316L658 314M647 315L650 307M650 307L656 311M656 311L658 314M673 323L676 317M673 323L667 323M667 323L666 322M666 322L667 315M667 315L674 314M676 317L674 314M676 328L673 323M688 323L676 317M668 330L667 323M661 324L666 322M665 314L658 314M665 314L667 315M462 262L463 262M462 262L453 264M463 262L462 256M462 256L454 255M454 255L451 263M451 263L453 264M469 271L469 264M469 271L463 273M463 273L461 272M461 272L462 262M469 264L463 262M455 275L461 272M455 275L454 274M454 274L453 264M450 263L451 263M448 253L452 253M452 253L454 255M454 274L449 275M449 275L445 272M522 294L529 289M522 294L519 289M529 289L528 284M528 284L520 284M519 289L520 284M364 224L381 227M384 218L382 227M381 227L382 227M382 266L379 253M375 250L379 253M384 252L381 252M379 253L381 252M444 249L445 246M452 253L455 247M455 247L454 246M454 246L445 246M421 241L419 230M428 235L427 229M419 230L423 226M423 226L425 226M427 229L425 226M425 218L426 223M425 218L415 213M409 216L413 223M415 213L411 215M413 223L423 226M425 226L426 223M438 231L445 234M438 231L435 240M436 241L435 240M436 241L444 239M444 239L445 238M445 234L445 238M433 239L435 240M436 229L427 229M436 229L438 231M436 248L436 241M445 246L444 239M452 240L445 238M452 240L454 246M446 232L445 234M446 232L457 231M457 236L457 231M457 236L452 240M400 178L413 184M418 167L422 172M422 172L413 184M413 197L420 195M413 184L420 195M415 213L423 196M420 195L423 196M425 218L429 213M429 213L424 196M424 196L423 196M462 218L456 208M462 218L454 223M454 223L452 222M452 222L455 208M455 208L456 208M456 208L456 208M464 218L462 218M464 218L469 210M463 204L456 208M463 204L468 205M468 205L469 210M449 195L462 194M449 195L456 208M462 194L463 204M438 151L447 159M422 172L423 172M445 166L446 164M447 159L446 164M514 189L505 187M514 189L512 197M505 196L510 198M505 196L505 187M512 197L510 198M505 187L505 187M593 149L603 151M593 149L581 153M581 153L577 160M596 174L579 163M579 163L577 160M612 159L603 151M597 136L606 136M597 136L588 127M606 136L614 130M593 149L597 136M603 151L606 136M578 134L581 153M578 134L580 121M580 121L588 127M591 111L580 120M580 120L580 121M615 130L614 130M643 135L634 141M634 141L634 145M634 145L644 154M669 153L675 148M675 148L672 145M648 129L643 135M666 130L672 145M623 130L634 141M623 130L615 130M623 158L634 145M623 158L612 159M675 148L675 148M639 105L639 110M639 105L627 103M639 110L623 121M627 103L622 115M623 121L622 115M648 125L639 110M643 100L639 105M626 100L627 103M623 130L623 121M610 108L622 115M626 100L618 92M549 249L541 248M549 249L551 248M541 243L541 248M541 243L546 239M551 248L546 239M564 214L564 215M564 214L559 213M559 213L554 216M554 216L553 223M557 224L553 223M557 224L564 219M564 219L564 215M670 281L666 280M669 289L665 291M661 289L665 291M661 289L661 283M661 283L666 280M674 276L664 272M666 280L664 272M673 266L670 265M670 265L663 272M664 272L663 272M688 202L675 197M688 202L677 208M677 208L673 205M673 205L673 200M673 200L675 197M675 190L675 197M688 218L677 212M677 212L677 208M666 211L666 210M666 211L673 215M666 210L673 205M677 212L673 215M670 265L667 261M667 261L657 263M657 263L656 265M663 272L661 272M656 265L661 272M632 307L631 305M632 307L639 309M639 309L644 304M644 304L643 301M643 301L637 298M637 298L633 299M633 299L631 305M610 307L608 311M610 307L608 299M608 311L600 304M608 299L604 298M600 304L604 298M597 314L597 307M608 311L609 314M600 304L597 307M583 299L592 296M584 305L593 304M592 296L593 304M586 314L594 305M597 307L594 305M593 304L594 305M622 316L623 304M622 316L617 316M617 316L617 306M623 304L623 304M623 304L617 305M617 306L617 305M632 307L629 316M629 316L626 318M626 318L622 316M631 305L623 304M625 325L626 323M614 317L617 316M626 323L626 318M610 307L617 306M613 298L615 296M613 298L617 305M615 296L622 301M622 301L623 304M608 299L613 298M641 316L642 317M641 316L634 318M642 317L641 325M634 318L635 325M635 326L635 325M635 326L640 326M640 326L641 325M650 306L650 307M650 306L644 304M639 309L641 316M645 317L642 317M629 316L634 318M651 325L641 325M626 323L635 325M630 332L626 330M630 332L635 326M632 336L630 332M642 331L640 326M677 445L674 450M674 450L678 454M655 415L660 409M655 415L659 423M659 423L666 412M666 412L665 410M660 409L665 410M680 408L675 406M675 406L666 409M666 412L670 416M666 409L665 410M675 406L674 397M676 395L674 397M666 409L666 399M674 397L666 399M663 426L660 425M659 423L659 425M660 425L659 425M666 435L661 436M660 425L661 436M571 425L581 423M571 425L571 425M581 423L581 420M572 414L570 419M572 414L577 415M577 415L581 420M571 425L570 419M589 416L588 413M589 416L581 420M577 415L583 410M588 413L583 410M590 400L590 400M597 407L589 409M597 407L594 401M589 409L590 400M575 459L575 459M575 459L564 464M575 459L575 469M564 464L564 466M573 471L565 467M573 471L575 469M565 467L564 466M581 469L575 469M559 470L564 466M555 467L559 470M555 467L551 467M551 467L550 469M541 466L541 466M550 469L541 466M588 413L589 409M583 410L582 407M590 400L584 402M582 407L584 402M566 402L573 403M566 402L562 409M562 409L563 410M563 410L572 414M572 414L574 406M574 406L573 403M572 414L572 414M582 407L574 406M528 272L532 270M528 272L527 274M527 274L530 281M530 281L535 281M539 279L535 281M539 279L537 272M537 272L532 270M544 270L539 271M544 270L549 274M549 274L547 280M547 280L539 279M537 272L539 271M549 249L547 257M541 249L541 248M541 249L543 257M543 257L547 257M551 248L554 248M554 248L556 256M547 257L549 259M549 259L556 256M556 256L556 256M566 262L566 256M566 262L558 266M558 266L556 256M556 256L565 256M565 256L566 256M565 333L563 331M565 323L563 324M563 324L563 331M555 332L556 332M558 340L563 339M563 331L556 332M571 288L567 294M571 288L570 283M564 281L570 283M564 281L564 293M567 294L564 293M564 293L564 293M576 290L571 288M573 299L567 294M581 283L582 276M581 283L570 282M570 282L574 274M574 274L580 274M582 276L580 274M582 287L581 283M570 283L570 282M563 281L565 273M563 281L561 281M561 281L553 272M565 273L557 268M553 272L555 269M557 268L555 269M555 285L561 281M555 285L556 289M556 289L564 293M564 281L563 281M555 285L547 282M549 274L553 272M547 280L547 282M544 270L545 267M545 267L549 263M549 263L555 269M549 259L549 263M558 266L557 268M541 305L540 309M541 305L539 301M540 309L533 307M539 301L530 299M533 307L529 299M530 299L529 299M526 300L525 307M526 300L529 299M525 307L532 307M532 307L533 307M522 294L523 297M529 289L534 292M534 292L530 299M523 297L526 300M522 385L520 387M522 385L521 374M514 381L515 375M514 381L516 384M515 375L521 374M521 374L521 374M516 384L520 387M347 380L336 376M347 380L347 380M347 380L338 399M336 376L329 378M329 378L331 396M331 396L338 399M339 366L336 376M344 362L354 361M354 361L347 380M323 376L329 378M326 399L331 396M330 339L350 335M341 350L352 344M352 344L350 335M347 325L351 330M350 335L351 330M457 367L441 365M457 367L457 373M441 365L440 365M457 373L438 375M438 375L440 365M487 286L477 288M487 286L479 277M476 279L479 277M476 279L477 287M477 288L477 287M469 271L471 274M463 273L465 282M471 274L471 278M471 278L466 282M466 282L465 282M455 275L458 281M465 282L458 281M449 275L447 280M439 272L440 282M447 280L440 282M430 282L440 282M440 282L440 282M425 306L425 303M425 303L427 300M431 315L432 315M432 315L438 313M427 300L438 309M438 313L438 309M512 341L512 334M523 336L523 332M515 331L521 330M523 332L521 330M532 348L529 340M532 348L531 351M529 340L526 339M522 349L524 351M524 351L531 351M516 360L517 359M516 360L522 370M517 359L519 359M519 359L525 361M525 361L528 365M528 365L522 370M512 373L513 364M512 373L515 375M521 374L522 370M513 362L513 364M513 362L516 360M513 352L517 359M524 351L519 359M531 351L531 351M531 351L525 361M589 341L587 347M580 347L583 349M587 347L583 349M597 348L592 349M587 347L592 349M562 350L555 347M562 350L562 355M557 357L562 355M557 357L551 350M551 350L555 347M564 350L562 350M556 343L555 347M549 350L549 350M549 350L551 350M544 341L549 338M575 389L564 380M575 389L576 382M569 376L565 378M569 376L569 376M576 382L569 376M564 380L565 378M626 412L635 419M626 412L624 413M624 413L624 423M624 423L632 425M632 425L633 425M633 425L635 419M622 347L616 350M622 347L623 342M623 342L623 342M623 342L613 340M613 340L613 349M613 349L616 350M632 339L623 342M620 334L623 342M613 339L613 340M609 349L613 349M633 341L630 349M622 347L627 350M630 349L627 350M676 309L675 306M675 306L676 300M676 300L685 296M674 314L676 309M665 314L665 305M665 305L675 306M677 288L685 296M671 290L675 299M675 299L676 300M650 306L655 299M643 301L647 293M647 293L655 299M666 300L665 305M666 300L665 298M665 298L655 299M665 305L661 305M655 299L661 305M675 299L666 300M665 305L665 305M665 291L665 298M661 289L659 290M659 290L655 299M655 299L655 299M656 311L661 305M655 299L655 299M608 382L616 382M608 375L616 372M616 382L616 372M608 366L615 365M615 365L616 372M616 372L616 372M626 412L635 408M626 412L625 401M634 401L636 406M634 401L631 399M635 408L636 406M631 399L629 399M625 401L629 399M626 412L626 412M636 417L635 419M636 417L635 408M624 413L623 413M618 407L623 413M618 407L619 401M619 401L625 401M523 276L520 284M523 276L515 273M520 284L513 280M513 280L512 276M515 273L512 276M527 274L523 276M528 284L530 281M520 284L520 284M528 272L523 265M523 265L517 266M517 266L515 273M519 289L512 291M512 291L512 281M512 281L513 280M512 281L506 284M506 284L501 280M501 280L506 274M506 274L507 274M507 274L512 276M517 266L513 263M513 263L506 265M506 265L507 274M501 280L501 280M498 270L506 274M498 270L495 274M501 280L495 274M498 270L499 264M506 265L503 264M503 264L499 264M537 233L541 231M537 233L534 240M534 240L541 243M547 237L546 239M547 237L545 233M545 233L541 231M537 233L531 229M531 229L534 223M541 231L539 223M534 223L539 223M382 227L384 228M381 252L389 242M384 228L389 242M401 247L401 243M389 242L401 243M413 223L411 228M419 230L414 233M411 228L414 233M417 243L411 239M401 243L402 239M402 239L411 239M411 239L414 233M455 247L462 247M462 256L463 253M463 253L462 247M462 241L457 236M462 241L463 246M463 246L462 247M470 238L475 233M470 238L466 236M466 236L464 229M475 233L471 228M471 228L465 229M465 229L464 229M480 236L477 241M480 236L479 234M471 240L477 241M471 240L470 238M479 234L475 233M471 240L469 245M462 241L466 236M469 245L463 246M458 230L464 229M458 230L457 231M465 219L465 229M465 219L464 218M458 230L454 223M462 194L462 193M468 205L471 204M471 193L462 193M471 193L472 196M471 204L472 196M440 224L438 221M440 224L445 225M448 223L446 214M448 223L445 225M438 221L439 213M439 213L446 214M436 229L440 224M426 223L438 221M446 232L445 225M450 210L446 214M450 210L455 208M452 222L448 223M429 213L438 213M438 213L439 213M449 195L449 195M450 210L441 203M449 195L441 203M438 213L439 204M441 203L439 204M424 196L425 195M439 204L425 195M423 172L432 188M425 195L432 188M432 133L450 126M432 133L426 114M450 126L445 110M445 110L426 114M450 126L455 126M460 104L466 110M460 104L452 101M455 126L466 110M445 110L452 101M460 104L463 95M452 101L451 100M429 138L432 133M425 111L426 114M506 173L508 170M506 173L494 173M494 173L496 164M496 164L505 164M505 164L508 170M447 159L459 154M455 126L468 143M459 154L468 145M468 143L468 145M494 174L489 172M494 174L494 175M494 175L491 181M489 172L477 174M477 174L489 183M491 181L489 183M494 173L494 174M496 164L490 154M484 158L485 154M484 158L489 172M490 154L485 154M507 181L505 185M507 181L506 173M505 185L494 175M500 187L491 181M500 187L505 187M505 185L505 187M484 188L488 184M484 188L490 196M488 184L494 191M494 191L493 196M493 196L492 196M490 196L492 196M500 187L494 191M489 183L488 184M501 198L504 197M501 198L493 196M504 197L505 196M501 198L499 205M499 205L497 207M490 205L497 207M490 205L492 196M471 193L472 190M472 196L481 197M481 197L481 189M481 189L472 190M481 198L481 197M481 198L490 196M484 188L482 189M481 189L482 189M462 193L461 189M461 189L462 187M462 187L471 185M472 190L471 185M623 158L625 174M644 154L653 174M662 175L671 178M653 174L654 175M654 175L657 176M662 175L657 176M675 190L673 188M673 188L671 178M564 214L572 196M564 215L573 214M573 214L576 212M572 196L576 212M613 183L617 198M613 183L599 185M599 185L599 185M599 185L610 198M610 198L615 200M617 198L615 200M616 216L613 213M616 216L612 223M612 223L606 222M606 222L607 214M607 214L613 213M564 219L566 222M573 214L573 221M573 221L571 224M566 222L571 224M573 229L572 231M573 229L582 227M572 231L577 238M582 227L583 228M583 228L579 238M577 238L579 238M589 274L583 276M589 274L588 266M583 276L582 276M580 274L580 265M580 265L588 266M516 103L516 103M516 103L511 111M511 111L516 115M522 108L517 103M522 108L523 108M516 103L517 103M523 108L516 115M513 120L507 121M513 120L516 116M511 111L507 112M507 121L507 120M507 112L507 120M516 116L516 115M559 213L555 203M555 203L555 197M555 197L555 197M572 193L572 196M572 193L569 192M555 197L569 192M570 158L577 160M555 176L569 186M507 181L514 180M508 170L514 169M514 180L514 169M529 110L531 119M529 110L538 110M538 110L538 111M538 111L538 116M537 117L538 116M537 117L532 120M532 120L531 119M527 110L529 110M527 110L525 110M525 110L524 119M531 119L524 119M523 108L525 110M516 116L524 119M524 119L524 119M551 112L552 119M551 112L538 111M538 116L548 122M548 122L552 119M552 110L571 111M552 110L551 112M578 119L562 124M578 119L571 111M552 119L562 124M659 228L657 223M659 228L655 232M655 232L649 231M649 225L649 231M649 225L655 221M655 221L657 223M673 218L679 222M673 218L668 225M679 222L676 229M670 230L675 230M670 230L668 227M676 229L675 230M668 225L668 227M688 218L679 222M673 215L673 218M666 211L663 213M663 213L664 219M664 219L668 225M667 238L670 230M667 238L676 241M676 241L680 240M680 240L675 230M667 238L667 238M659 228L668 227M655 232L660 239M667 238L660 239M688 241L680 240M657 223L664 219M616 216L622 216M621 208L616 206M621 208L624 214M616 206L614 207M613 213L614 207M624 214L622 216M659 290L652 287M647 293L647 291M652 287L647 291M640 290L643 289M640 290L637 298M643 289L647 291M612 223L613 224M622 216L622 222M622 222L613 224M649 231L649 231M657 242L660 239M657 242L648 239M649 231L648 239M616 291L616 291M616 291L609 288M616 291L615 296M604 298L603 297M603 297L605 291M609 288L605 291M616 291L622 292M622 301L624 296M622 292L624 296M633 299L631 296M624 296L631 296M592 296L592 295M603 297L601 296M592 295L601 296M593 252L588 258M593 252L598 254M598 254L598 261M588 258L591 264M591 264L595 264M595 264L598 261M676 395L675 392M666 399L664 397M664 397L671 389M671 389L675 392M678 385L676 391M676 391L675 392M570 419L565 419M563 410L561 417M561 417L565 419M575 459L571 453M564 464L562 461M571 453L565 453M565 453L562 461M555 467L558 460M562 461L558 460M550 459L551 467M550 459L555 459M558 460L555 459M565 453L563 451M555 459L557 453M557 453L563 451M580 399L576 398M580 399L585 391M576 398L574 391M585 391L583 389M583 389L575 389M575 389L574 391M584 402L580 399M573 403L576 398M589 392L585 391M566 402L564 397M564 397L566 393M566 393L574 391M585 384L583 389M585 384L590 382M592 384L590 382M575 389L575 389M585 384L580 379M576 382L580 379M558 408L555 405M558 408L552 416M555 405L547 410M547 410L552 416M562 409L558 408M561 417L556 422M556 422L552 418M552 418L552 416M545 287L537 288M545 287L546 292M546 293L546 292M546 293L541 296M541 296L535 291M535 291L537 288M547 282L545 287M535 281L537 288M556 289L555 290M555 290L546 292M534 292L535 291M539 301L541 296M533 263L533 257M533 263L533 264M533 264L538 264M533 257L542 257M538 264L541 263M542 257L541 263M523 265L523 264M523 264L533 263M532 270L533 264M539 271L538 264M545 267L541 263M543 257L542 257M547 237L556 238M549 227L545 233M549 227L556 234M556 238L556 234M557 224L559 228M553 223L550 225M549 227L550 225M556 234L559 228M566 222L563 229M571 224L573 229M572 231L567 233M567 233L563 229M559 228L563 229M568 265L574 265M568 265L566 272M574 265L573 273M566 272L573 273M566 262L568 265M565 273L566 272M574 274L573 273M540 312L540 309M540 312L542 314M542 314L544 314M541 305L547 303M544 314L552 309M547 303L552 309M546 293L550 299M547 303L550 299M539 330L532 331M539 330L541 336M532 331L533 337M533 337L541 339M541 336L541 339M541 324L540 323M541 324L539 330M540 323L532 323M530 329L532 323M530 329L532 331M548 330L541 336M548 330L546 326M546 326L541 324M529 340L533 337M523 332L530 329M532 348L537 346M542 340L541 339M548 330L551 333M548 358L549 367M548 358L555 362M549 367L557 366M555 362L557 366M557 366L557 366M549 350L547 357M547 357L548 358M557 357L555 362M547 372L547 369M547 372L553 374M547 369L549 367M553 374L557 370M557 370L557 366M552 321L551 319M552 321L555 323M551 319L555 313M555 323L556 323M556 323L560 316M560 316L555 313M542 314L540 323M546 326L552 321M544 314L551 319M556 332L555 323M554 310L552 309M554 310L555 313M563 324L556 323M565 315L560 316M516 384L509 392M520 387L520 389M520 389L513 396M509 392L513 396M512 373L507 373M513 364L505 366M507 373L505 366M514 381L507 384M507 384L504 375M507 373L504 375M341 401L338 399M341 401L353 396M347 380L355 384M353 396L356 387M355 384L356 387M353 396L360 407M372 394L371 407M372 394L366 390M360 407L371 407M356 387L366 390M354 361L362 358M352 344L353 344M362 358L353 344M379 390L372 394M379 390L382 392M371 407L377 415M377 415L379 414M379 414L387 401M382 392L387 401M329 446L332 445M329 446L319 443M332 445L332 432M319 443L319 434M332 432L322 428M319 434L322 428M305 456L319 443M317 463L325 458M325 458L329 446M320 423L322 428M341 401L343 413M360 407L351 416M351 416L343 413M377 419L377 415M377 419L357 426M351 416L357 426M323 415L340 416M340 416L343 413M468 292L472 287M468 292L463 290M463 290L466 283M472 287L466 283M471 278L476 279M477 287L472 287M466 282L466 283M446 323L438 326M446 323L444 316M444 316L442 315M442 315L436 323M436 323L438 326M432 315L431 322M431 322L436 323M438 313L442 315M429 283L429 294M440 282L441 290M441 290L429 294M427 300L429 296M441 303L438 309M441 303L440 301M440 301L429 296M425 303L416 303M412 288L429 294M429 296L429 294M429 294L429 294M441 290L442 290M440 301L443 296M443 296L442 290M441 303L443 304M443 304L451 299M443 296L451 299M477 288L476 297M468 292L471 298M476 297L471 298M460 291L463 298M460 291L463 290M463 298L466 300M466 300L470 299M471 298L470 299M506 331L504 334M509 342L505 337M504 334L505 337M540 312L531 315M532 323L530 321M530 321L531 315M532 307L529 313M529 313L531 315M525 307L523 310M529 313L523 310M523 297L517 300M517 300L516 304M516 304L523 311M523 310L523 311M571 359L574 367M571 359L564 361M564 361L563 363M563 363L567 367M567 367L571 369M571 369L574 367M572 353L573 356M573 356L571 359M562 355L564 361M557 366L563 363M561 373L557 370M561 373L567 367M569 376L571 369M561 373L565 378M569 376L580 375M580 379L580 376M580 376L580 375M590 382L592 375M580 376L592 375M601 365L590 369M595 375L592 375M590 369L592 375M592 375L592 375M582 358L578 368M582 358L585 356M587 357L585 356M587 357L590 360M590 360L589 367M589 367L579 368M578 368L579 368M573 356L582 358M574 367L578 368M583 349L585 356M592 349L587 357M597 358L590 360M590 369L589 367M580 375L579 368M589 416L592 417M597 407L599 409M592 417L599 409M606 406L606 409M599 409L606 409M632 425L631 432M633 425L639 426M631 432L633 434M633 434L644 435M644 435L645 434M639 426L645 434M624 423L623 424M631 432L624 435M623 424L620 433M624 435L620 433M633 434L634 443M644 435L643 441M643 441L640 444M640 444L634 443M607 356L616 362M616 350L617 355M616 362L617 355M615 365L616 363M616 362L616 363M627 350L628 357M617 355L628 357M609 391L613 391M616 382L618 383M613 391L618 383M610 401L617 398M617 398L617 397M613 391L617 397M619 401L617 398M629 399L622 390M617 397L622 390M644 399L634 401M644 399L640 392M640 392L636 392M631 399L632 396M632 396L636 392M474 216L479 211M474 216L474 219M479 211L482 222M474 219L475 221M475 221L481 223M481 223L482 222M465 219L474 219M469 210L474 216M471 228L475 221M482 228L481 223M482 228L479 234M488 206L489 215M488 206L482 205M482 205L480 206M489 215L489 218M479 210L488 218M479 210L480 206M489 218L488 218M490 205L488 206M497 210L497 207M497 210L489 215M481 198L482 205M471 204L480 206M479 211L479 210M482 222L488 218M512 291L510 292M506 284L505 290M505 290L507 291M510 292L507 291M517 300L511 296M510 292L511 296M514 189L514 189M514 180L515 180M514 189L515 180M542 211L547 211M542 211L540 213M540 213L542 220M550 215L547 211M550 215L544 221M544 221L542 220M541 205L542 211M541 205L550 198M555 203L547 211M555 197L550 198M534 223L531 218M539 223L542 220M534 213L540 213M534 213L531 218M554 216L550 215M550 225L544 221M523 240L530 243M523 240L526 230M526 230L526 230M526 230L533 240M533 240L530 243M534 240L533 240M531 229L526 230M541 249L534 250M530 243L530 245M534 250L530 245M533 257L532 256M534 250L532 256M523 264L525 256M532 256L525 256M504 197L506 208M499 205L506 208M506 208L506 208M510 198L512 204M506 208L512 204M531 218L525 220M526 230L526 230M526 230L525 220M480 236L488 240M482 228L489 229M488 240L491 238M491 238L491 238M489 229L491 238M396 221L389 228M396 221L404 223M389 228L400 234M400 234L404 228M404 223L404 228M397 209L396 221M384 228L389 228M408 216L404 223M402 239L400 234M411 228L404 228M470 253L475 248M470 253L473 259M473 259L480 255M480 255L478 249M475 248L477 248M477 248L478 249M469 245L475 248M463 253L470 253M469 264L470 263M470 263L473 259M477 241L477 248M487 245L488 240M487 245L478 249M471 274L481 269M479 277L483 272M481 269L483 272M470 263L480 267M481 269L480 267M442 172L449 191M442 172L432 188M432 188L448 193M449 191L448 193M445 166L442 172M432 188L432 188M449 195L448 193M453 187L449 191M453 187L461 189M506 93L503 96M506 93L510 94M516 103L508 104M516 103L514 97M510 94L514 97M503 96L508 104M507 112L505 110M508 104L505 110M466 110L472 111M472 138L468 143M474 112L472 111M463 95L480 85M483 80L480 85M441 99L424 110M419 106L424 110M451 100L441 99M408 104L419 106M425 111L424 110M505 164L505 164M490 154L493 151M505 164L503 153M493 151L503 153M475 176L472 181M475 176L476 173M476 173L475 171M472 181L460 180M475 171L475 171M475 171L456 175M460 180L456 175M456 175L456 175M482 189L475 176M471 185L472 181M477 174L476 173M484 158L475 171M462 187L460 180M485 154L468 145M446 164L456 175M453 187L456 175M666 210L664 204M673 200L666 199M666 199L664 204M673 188L662 196M666 199L662 196M596 174L599 185M599 185L596 189M585 195L572 193M585 195L587 195M569 192L569 186M596 189L587 195M602 212L598 206M602 212L604 211M604 211L606 206M601 203L598 206M601 203L605 206M605 206L606 206M592 212L592 206M592 212L596 215M596 215L602 212M592 206L598 206M607 214L604 211M614 207L606 206M592 206L587 195M596 189L601 203M610 198L605 206M615 200L616 206M583 212L579 214M583 212L589 214M579 214L580 221M589 214L588 219M588 219L582 223M580 221L582 223M585 195L583 212M576 212L579 214M592 212L589 214M573 221L580 221M596 215L597 218M597 218L592 222M592 222L588 219M582 227L582 223M510 94L520 86M514 97L520 93M520 86L520 93M522 108L529 97M517 103L523 97M529 97L523 97M523 97L520 93M541 166L543 162M541 166L532 162M539 157L534 156M539 157L541 158M532 162L534 156M541 158L543 162M570 158L559 154M555 176L554 176M552 161L559 154M552 161L552 174M552 174L554 176M555 197L548 187M554 176L548 187M513 120L519 127M524 119L522 125M522 125L519 127M507 121L507 125M507 125L514 132M514 132L518 129M519 127L518 129M545 126L546 128M545 126L548 122M562 124L559 129M559 129L546 128M635 246L640 246M635 246L633 241M640 246L640 240M633 241L639 238M640 240L639 238M629 239L626 242M629 239L629 239M629 239L633 241M626 242L628 249M628 249L629 250M629 250L635 246M645 231L649 231M645 231L639 234M639 234L639 238M648 239L647 239M647 239L640 240M635 255L639 255M635 255L632 254M632 254L629 250M640 246L642 249M639 255L642 249M642 262L650 263M642 262L642 260M650 263L651 255M642 260L651 255M624 227L624 225M624 227L633 231M624 225L633 220M633 231L634 231M634 231L638 223M633 220L638 223M638 223L638 223M629 239L621 231M629 239L633 231M621 231L624 227M631 213L633 220M631 213L624 214M622 222L624 225M639 234L634 231M645 231L638 223M621 231L618 233M613 224L614 231M614 231L618 233M619 242L626 242M619 242L618 238M618 238L618 233M589 274L592 275M588 266L591 264M595 264L597 271M592 275L597 271M607 270L603 273M607 270L607 264M607 264L598 261M597 271L603 273M607 270L607 270M601 280L603 273M601 280L607 282M607 270L607 282M616 291L619 281M609 288L609 283M619 281L614 279M614 279L609 283M598 254L601 252M607 264L609 261M601 252L609 257M609 261L609 257M674 450L669 451M678 454L676 459M669 451L669 458M669 458L676 459M676 459L677 460M677 460L674 467M658 470L647 470M643 470L647 470M647 470L647 470M557 426L557 426M557 426L558 434M557 426L563 426M558 434L567 434M563 426L568 427M568 427L567 434M565 419L563 426M556 422L557 426M571 425L568 427M571 425L577 432M569 436L567 434M569 436L571 437M577 432L571 437M569 436L558 442M562 445L558 442M562 445L572 443M571 437L572 443M532 473L530 468M521 469L522 468M522 468L530 468M564 392L556 391M564 392L561 383M556 391L557 383M561 383L557 383M564 380L561 383M566 393L564 392M553 382L557 383M553 382L553 374M559 398L554 394M559 398L555 405M555 405L549 401M549 401L550 395M554 394L550 395M564 397L559 398M556 391L554 394M555 405L555 405M556 238L558 239M567 233L565 239M565 239L558 239M554 248L556 246M558 239L556 246M565 256L563 249M556 246L563 249M555 299L555 299M555 299L561 298M555 299L556 307M561 298L565 304M556 307L563 307M563 307L565 304M555 290L555 299M550 299L555 299M564 293L561 298M554 310L556 307M572 302L565 304M565 314L563 307M536 366L533 367M536 366L540 363M540 363L541 360M530 365L533 367M530 365L533 353M541 360L537 356M533 353L537 356M531 373L533 367M531 373L538 376M538 376L540 373M540 373L536 366M547 372L545 374M547 369L540 363M545 374L540 373M547 357L541 360M528 377L531 373M528 377L521 374M528 365L530 365M531 351L533 353M541 350L537 356M459 418L471 415M459 418L464 403M464 403L464 403M471 415L464 403M507 384L505 388M509 392L506 391M505 388L506 391M504 375L501 375M501 375L496 367M505 366L502 365M496 367L497 366M497 366L502 365M513 362L506 358M502 365L506 358M507 351L505 356M505 356L506 358M394 434L394 433M394 434L385 436M385 436L378 432M378 432L377 420M377 420L394 428M394 428L394 433M416 454L418 450M416 454L401 445M418 450L406 442M401 445L406 442M421 465L412 471M429 460L421 463M429 460L435 469M435 469L429 489M421 465L421 463M400 445L401 445M400 445L409 460M416 454L415 458M415 458L409 460M438 375L436 376M440 365L437 359M437 359L425 361M436 376L430 374M425 361L430 374M379 390L382 379M366 390L376 370M382 379L376 370M382 392L391 391M394 382L391 391M394 382L392 380M382 379L392 380M376 370L371 362M362 358L371 361M371 362L371 361M374 472L375 471M375 471L373 455M361 443L354 452M361 443L370 445M373 455L370 445M377 419L377 420M357 426L355 433M361 443L355 433M378 432L372 443M370 445L372 443M385 436L387 446M372 443L387 446M395 470L405 471M421 463L415 458M409 460L406 463M412 471L406 469M406 463L406 469M398 445L398 446M398 445L389 447M398 446L397 461M389 447L389 449M389 449L387 464M397 461L389 464M387 464L389 464M400 445L398 446M409 437L406 442M409 437L406 433M394 434L398 445M406 433L394 433M387 446L389 447M406 463L397 461M373 455L389 449M375 471L387 464M395 470L389 464M405 471L406 469M334 431L346 436M334 431L339 422M339 422L352 434M346 436L352 434M332 432L334 431M340 416L339 422M355 433L352 434M352 453L340 447M352 453L347 464M347 464L340 464M339 447L340 447M339 447L336 459M336 459L340 464M340 464L340 464M354 452L352 453M346 436L340 447M332 445L339 447M325 458L336 459M322 473L340 464M415 411L406 421M415 411L419 419M406 421L412 425M419 419L419 423M412 425L419 423M436 376L437 381M423 376L430 374M423 376L422 385M437 381L422 385M436 331L438 326M436 331L439 334M439 334L445 334M446 323L448 325M445 334L445 334M448 325L445 334M453 313L447 314M453 313L454 303M454 303L454 303M454 303L447 308M447 314L447 308M443 304L447 308M451 299L452 299M452 299L453 300M453 300L454 303M444 316L447 314M455 290L454 292M455 290L454 286M454 292L443 290M454 286L449 283M449 283L443 290M460 291L455 290M452 299L454 292M453 300L463 298M458 281L454 286M442 290L443 290M447 280L449 283M466 300L463 305M454 303L461 306M461 306L463 305M470 299L472 306M463 305L470 311M472 306L470 311M478 298L478 306M478 298L487 298M487 298L488 306M488 306L479 308M479 308L478 306M476 297L478 298M472 306L478 306M506 347L498 346M496 341L505 337M496 341L496 341M498 346L496 341M520 324L522 321M520 324L511 321M522 321L520 314M511 321L514 314M514 314L520 314M521 330L520 324M530 321L522 321M507 324L508 325M507 324L511 321M523 311L520 314M506 323L505 316M506 323L507 324M505 316L508 311M513 314L508 311M513 314L514 314M516 304L516 304M516 304L513 314M593 418L596 419M593 418L591 425M596 419L599 424M599 424L596 429M591 425L596 429M618 407L614 409M623 413L618 415M614 409L618 415M606 409L607 410M614 409L607 410M596 443L597 441M596 443L588 443M588 443L587 442M587 442L594 436M594 436L595 436M597 441L595 436M599 424L605 426M596 429L597 431M597 431L605 432M605 426L605 432M643 441L651 445M645 434L646 433M651 445L655 441M646 433L655 441M644 419L643 424M644 419L649 420M643 424L650 429M649 420L652 427M652 427L651 428M651 428L650 429M636 417L641 416M641 416L644 419M639 426L643 424M646 433L650 429M655 415L652 415M652 415L649 420M659 425L652 427M661 436L658 438M658 438L651 428M655 441L658 441M658 438L658 441M624 435L625 442M625 442L626 443M634 443L630 445M626 443L630 445M642 357L632 358M642 357L638 351M632 358L636 352M638 351L636 352M639 349L638 351M630 349L636 352M650 356L646 358M642 357L642 358M646 358L642 358M657 360L657 363M657 363L651 369M651 369L648 368M646 358L648 368M648 379L652 372M648 379L641 371M641 371L641 370M651 369L652 372M648 368L641 370M616 363L625 364M628 357L628 358M628 358L625 364M632 358L631 359M628 358L631 359M642 358L637 366M631 359L637 366M641 370L637 367M637 367L637 366M640 392L643 390M636 392L635 383M646 383L643 390M646 383L642 382M635 383L642 382M674 359L674 364M664 358L669 366M669 366L674 364M674 364L676 365M655 373L662 367M655 373L659 378M659 378L666 371M662 367L666 369M666 369L666 371M657 363L662 367M652 372L655 373M669 366L666 369M664 397L660 395M671 389L666 385M666 385L660 395M660 409L658 406M658 406L658 397M658 397L660 395M660 395L660 395M651 405L651 397M651 405L646 409M644 408L644 399M644 408L646 409M644 399L650 397M646 409L646 409M650 397L651 397M658 406L651 405M658 397L651 397M652 415L646 409M644 399L644 399M636 406L644 408M641 416L646 409M643 390L649 394M649 394L650 397M507 301L503 299M507 301L508 305M508 305L506 308M506 308L499 308M498 308L499 308M498 308L499 299M499 299L503 299M507 291L503 299M511 296L507 301M516 304L508 305M508 311L506 308M505 316L499 315M499 315L499 308M490 309L498 308M490 309L488 306M488 297L498 299M488 297L487 298M498 299L499 299M505 290L500 290M500 290L498 299M499 282L489 282M499 282L499 289M499 289L489 290M489 290L487 287M487 287L489 282M501 280L499 282M490 275L495 274M490 275L489 282M500 290L499 289M488 297L489 290M487 286L487 287M490 275L488 274M488 274L483 272M550 198L539 195M548 187L541 185M539 195L541 185M536 202L537 196M536 202L541 205M539 195L537 196M537 196L531 194M541 185L540 184M540 184L532 190M531 194L532 190M503 264L506 256M506 256L500 254M498 263L499 256M498 263L499 264M499 256L500 254M522 249L523 251M522 249L515 248M523 251L524 255M524 255L513 257M515 248L513 256M513 257L513 256M522 240L523 240M522 240L522 249M530 245L523 251M522 240L517 239M514 245L517 239M514 245L515 248M525 256L524 255M513 263L513 257M509 255L505 245M509 255L513 256M505 245L514 245M506 256L509 255M515 236L517 239M515 236L515 233M526 230L518 230M515 233L518 230M503 230L504 228M503 230L505 238M505 238L515 236M515 233L504 228M516 207L515 213M516 207L522 204M522 204L522 212M515 213L522 212M534 213L530 207M530 207L524 214M525 220L524 219M524 214L524 219M490 228L500 230M490 228L492 220M500 230L493 220M492 220L493 220M500 230L500 230M500 230L491 238M489 229L490 228M489 218L492 220M499 218L505 225M499 218L493 220M503 230L500 230M504 228L505 225M500 215L497 210M500 215L499 218M481 256L481 266M481 256L488 255M481 266L491 262M488 255L491 262M491 262L491 262M480 255L481 256M480 267L481 266M487 245L490 251M489 254L490 251M489 254L488 255M488 274L491 262M498 263L491 262M489 254L499 256M500 132L506 138M500 132L491 130M491 130L490 131M490 131L493 149M493 149L506 140M506 138L506 140M507 125L500 132M514 132L514 132M514 132L506 138M490 119L507 120M490 119L491 130M472 138L490 131M493 151L493 149M503 153L505 153M505 153L509 143M509 143L506 140M512 144L517 143M512 144L509 143M514 132L518 140M518 140L517 143M489 117L500 109M489 117L484 113M484 113L491 95M500 109L500 97M500 97L491 95M490 119L489 117M505 110L500 109M474 112L484 113M483 80L491 95M503 96L500 97M505 164L512 158M505 153L512 155M512 158L512 155M515 169L514 169M515 169L516 165M512 158L516 165M515 169L516 169M516 169L527 165M527 165L523 159M516 165L523 159M512 144L513 155M513 155L512 155M518 140L522 140M518 129L526 136M522 140L526 136M652 177L631 182M652 177L641 190M641 190L631 182M657 176L657 183M657 183L660 195M662 196L660 195M660 195L660 195M657 183L648 197M660 195L648 197M654 175L652 177M641 194L641 190M641 194L644 196M644 196L647 197M648 197L647 197M649 225L644 220M638 223L644 220M644 220L644 220M655 221L655 215M644 220L655 215M606 222L605 223M614 231L610 233M605 223L610 233M597 218L602 224M605 223L602 224M583 228L588 230M592 222L591 229M588 230L591 229M579 238L585 240M585 240L587 241M588 230L587 241M602 224L598 231M591 229L598 231M582 257L580 265M582 257L581 255M581 255L572 256M572 256L575 264M575 264L580 265M580 265L580 265M588 258L582 257M566 256L570 254M574 265L575 264M570 254L572 256M571 250L576 246M571 250L566 244M566 240L566 244M566 240L575 242M575 242L576 246M582 251L578 247M582 251L581 255M570 254L571 250M578 247L576 246M563 249L566 244M565 239L566 240M577 238L575 242M585 240L578 247M527 110L533 100M538 110L539 103M533 100L539 103M529 97L530 97M533 100L530 97M541 170L537 181M541 170L547 174M547 174L540 184M537 181L540 184M540 169L541 170M540 169L541 166M543 162L552 161M552 174L547 174M540 184L540 184M532 190L528 185M537 181L532 179M528 185L532 179M514 189L521 189M515 180L520 180M521 189L523 187M520 180L523 187M533 127L532 129M533 127L540 126M532 129L532 133M532 133L538 135M538 135L543 127M540 126L543 127M532 120L533 127M522 125L532 129M537 117L540 126M529 136L526 136M529 136L532 133M538 136L536 146M538 136L538 135M536 146L532 148M529 136L532 148M545 126L543 127M545 138L546 147M545 138L549 135M549 135L556 136M557 151L548 148M557 151L558 141M558 141L556 136M546 147L548 148M538 136L545 138M541 147L536 146M541 147L546 147M546 128L549 135M559 129L556 136M541 158L548 148M559 154L557 151M578 134L558 141M580 120L578 119M539 157L541 147M670 255L667 248M670 255L677 254M675 246L677 251M675 246L668 246M668 246L667 248M677 254L677 251M677 254L677 254M667 261L668 257M668 257L670 255M688 241L677 251M676 241L675 246M667 238L668 246M647 246L645 248M647 246L657 246M645 248L651 255M657 246L658 249M658 249L657 253M657 253L655 255M655 255L651 255M647 239L647 246M642 249L645 248M657 242L657 246M639 255L642 260M651 255L651 255M667 248L658 249M668 257L657 253M657 263L655 255M656 265L653 266M653 266L650 263M651 274L651 281M651 274L659 274M658 279L659 274M658 279L652 282M652 282L651 281M661 272L659 274M653 266L649 271M649 271L651 274M661 283L658 279M652 287L652 282M643 289L644 280M644 280L651 281M598 285L599 282M598 285L596 287M599 282L593 277M593 277L590 284M596 287L591 288M590 284L590 288M590 288L591 288M605 291L598 285M601 280L599 282M609 283L607 282M601 296L596 287M592 275L593 277M583 276L590 284M592 295L591 288M584 288L590 288M607 270L611 271M614 279L613 274M611 271L613 274M622 292L626 287M631 296L632 289M626 287L632 289M619 281L624 281M624 281L624 281M626 287L624 281M640 290L635 287M632 289L635 287M619 242L617 246M628 249L624 251M624 251L617 246M609 261L612 261M611 271L618 266M612 261L618 266M632 254L623 261M624 251L621 257M621 257L621 259M621 259L623 261M674 467L671 466M674 467L673 479M671 466L666 469M673 479L666 469M669 458L668 461M668 461L671 466M674 467L674 467M668 461L659 463M659 463L659 469M659 469L666 469M658 470L659 469M668 441L665 445M669 451L668 451M668 451L665 445M658 441L661 444M665 445L661 444M657 461L654 461M657 461L658 455M654 461L647 453M658 455L656 452M656 452L651 450M647 453L651 450M659 463L657 461M649 463L654 461M649 463L647 470M668 451L658 455M661 444L656 452M651 445L651 450M584 454L584 454M584 454L573 448M584 454L581 442M581 442L573 444M573 448L573 444M583 441L581 442M583 441L587 442M590 451L588 452M590 451L588 443M588 452L584 454M571 453L573 448M562 445L563 451M572 443L573 444M590 464L590 468M590 464L582 457M582 469L582 458M582 469L590 468M590 468L590 468M582 458L582 457M588 452L593 459M593 459L590 464M584 454L582 457M581 469L582 469M575 459L582 458M599 469L590 468M581 433L583 437M581 433L584 427M583 437L590 434M590 434L588 427M584 427L588 427M577 432L581 433M583 441L583 437M581 423L584 427M594 436L590 434M591 425L588 427M597 431L595 436M592 417L593 418M516 470L514 469M514 469L515 463M522 468L522 461M522 461L521 461M515 463L521 461M522 461L530 459M530 468L531 460M531 460L530 459M557 453L556 450M558 442L557 442M556 450L557 442M556 438L557 441M556 438L558 434M557 441L557 442M490 399L500 394M490 399L490 399M490 399L498 404M498 404L503 399M503 399L502 394M502 394L500 394M539 413L545 410M539 413L535 408M535 408L543 402M545 410L545 403M545 403L543 402M547 410L545 410M539 418L545 420M539 418L539 413M545 420L552 418M531 403L534 407M531 403L532 401M534 407L535 408M532 401L538 396M538 396L543 402M549 401L545 403M444 397L437 385M444 397L458 387M437 385L437 382M437 382L458 384M458 387L458 384M464 403L463 403M463 403L460 389M464 403L470 400M470 400L476 391M460 389L476 391M457 373L458 375M437 382L437 381M458 375L459 381M458 384L459 381M486 397L485 392M486 397L490 399M500 394L497 391M485 392L497 391M505 388L497 383M506 391L502 394M497 391L497 383M501 375L495 382M495 382L497 383M400 423L403 422M400 423L388 413M388 413L399 408M399 408L404 421M404 421L403 422M406 433L403 422M394 428L400 423M379 414L388 413M409 437L413 436M406 421L404 421M413 436L412 425M434 457L429 460M434 457L439 459M429 460L429 460M435 469L438 467M438 467L439 459M447 448L445 457M447 448L446 447M434 457L436 451M446 447L436 451M445 457L439 459M465 437L458 443M465 437L469 436M469 436L469 437M469 437L462 449M458 443L457 447M457 447L462 449M473 455L475 444M473 455L471 455M471 455L462 449M475 444L469 437M475 444L483 439M471 431L469 436M471 431L484 432M484 432L483 439M514 469L507 470M507 470L492 482M492 482L492 482M402 394L400 389M402 394L398 401M400 389L393 394M398 401L395 399M395 399L393 394M394 382L400 385M391 391L393 394M400 385L400 389M387 401L395 399M400 404L399 408M400 404L398 401M383 327L384 327M383 327L365 322M384 327L377 342M365 322L362 326M362 326L369 337M369 337L377 342M365 315L365 322M382 318L383 327M351 330L362 326M353 344L369 337M436 342L436 343M436 342L439 334M436 331L429 331M436 343L431 342M431 342L427 337M427 337L429 331M431 322L427 326M429 331L427 326M398 314L398 316M413 309L415 318M398 316L415 318M417 319L416 319M427 326L417 322M417 322L416 319M416 319L415 318M447 448L453 448M453 448L457 447M446 447L445 445M458 443L451 427M445 445L451 427M419 437L424 429M419 437L424 445M434 440L427 445M434 440L427 428M427 428L424 429M427 445L424 445M424 445L424 445M413 436L419 437M419 423L424 429M418 450L424 445M436 451L427 445M445 445L436 439M436 439L434 440M429 427L440 429M429 427L427 428M440 429L436 439M427 417L430 420M427 417L419 419M430 420L429 427M429 460L424 445M400 404L413 405M415 411L416 407M413 405L416 407M427 417L426 409M426 409L417 406M416 407L417 406M436 342L446 343M438 349L436 343M438 349L447 348M446 343L447 348M445 334L446 342M446 343L446 342M467 316L460 314M467 316L465 323M456 322L461 325M456 322L457 316M457 316L460 314M461 325L465 323M461 306L460 314M470 311L471 314M471 314L467 316M448 325L452 325M452 325L456 322M453 313L457 316M471 314L471 314M479 308L476 315M476 315L471 314M490 309L490 310M490 310L480 317M476 315L480 317M465 323L472 327M471 314L472 327M487 342L487 347M487 342L496 341M498 346L495 352M487 347L495 352M489 369L487 367M489 369L496 367M487 367L487 359M497 366L495 356M487 359L495 356M505 356L496 355M495 352L496 355M496 355L495 356M590 451L596 450M596 443L596 449M596 449L596 450M593 459L598 458M596 450L598 458M603 468L609 461M603 468L600 468M600 468L599 459M609 461L607 455M607 455L599 459M599 469L600 468M599 459L598 458M603 468L609 471M612 481L609 471M606 441L606 441M606 441L614 440M606 441L607 450M607 450L608 451M608 451L615 451M617 445L614 440M617 445L616 449M616 449L615 451M597 441L606 441M605 432L605 432M605 432L606 441M617 433L614 440M617 433L614 431M614 431L605 432M596 449L607 450M607 455L608 451M620 433L617 433M625 442L617 445M626 443L624 451M624 451L616 449M605 418L607 413M605 418L606 424M607 413L615 419M606 424L614 423M615 419L615 421M615 421L614 423M596 419L605 418M607 410L607 413M605 426L606 424M618 415L615 419M614 431L614 423M623 424L615 421M630 445L631 451M624 451L625 452M625 452L631 451M625 364L626 365M637 367L637 367M637 367L626 365M616 372L626 374M626 365L626 374M632 379L634 383M632 379L629 375M634 383L626 387M629 375L627 375M627 375L621 384M626 387L623 387M623 387L621 384M635 383L634 383M640 374L632 379M640 374L642 382M641 371L640 374M637 367L629 375M632 396L626 387M626 374L627 375M618 383L621 384M622 390L623 387M668 372L676 375M668 372L669 382M674 380L669 382M674 380L677 376M677 376L676 375M676 365L676 375M666 371L668 372M678 385L674 380M666 385L666 385M666 385L669 382M659 380L661 383M659 380L648 382M661 383L655 389M648 382L648 383M648 383L652 388M652 388L655 389M659 378L659 380M666 385L661 383M648 379L648 382M660 395L655 389M646 383L648 383M649 394L652 388M524 195L531 194M524 195L522 197M531 194L531 206M522 197L523 203M523 203L529 207M531 206L529 207M521 189L524 195M531 194L531 194M528 185L523 187M512 197L522 197M536 202L531 206M512 204L516 207M522 204L523 203M530 207L529 207M522 212L524 214M499 251L496 249M499 251L505 245M496 249L495 241M495 241L504 241M505 245L504 241M490 251L496 249M500 254L499 251M505 245L505 245M491 238L495 241M505 238L504 241M514 214L515 220M514 214L506 211M504 214L506 211M504 214L511 222M515 220L514 221M511 222L514 221M515 213L514 214M524 219L515 220M506 208L506 211M500 215L504 214M505 225L511 222M518 230L514 221M531 151L531 148M531 151L523 157M531 148L526 146M526 146L520 148M523 157L518 154M520 148L518 154M534 156L531 151M532 148L531 148M532 162L528 165M527 165L528 165M523 159L523 157M522 140L526 146M517 143L520 148M513 155L518 154M631 194L624 197M631 194L629 181M629 181L625 178M623 197L624 197M623 197L622 180M622 180L625 178M632 205L637 196M632 205L626 201M637 196L631 194M626 201L624 197M641 194L637 196M631 182L629 181M625 174L625 178M617 198L623 197M621 208L626 201M613 183L622 180M652 203L657 203M652 203L649 208M657 203L657 203M657 203L659 212M659 212L655 214M655 214L650 210M649 208L650 210M660 195L657 203M647 197L652 203M644 196L643 205M643 205L649 208M664 204L657 203M663 213L659 212M655 215L655 214M640 207L644 213M640 207L633 208M632 211L643 216M632 211L633 208M643 216L644 213M643 205L640 207M650 210L644 213M632 205L633 208M631 213L632 211M644 220L643 216M610 233L609 234M598 231L598 231M598 231L609 234M618 238L608 240M609 234L608 240M552 110L552 99M539 103L539 102M552 99L539 102M530 97L531 92M521 173L529 170M521 173L522 178M522 178L531 178M531 178L531 172M531 172L529 170M516 169L521 173M528 165L529 170M520 180L522 178M532 179L531 178M540 169L531 172M642 262L640 267M649 271L643 272M640 267L643 272M625 276L630 273M625 276L621 272M621 272L622 265M630 273L630 266M624 264L622 265M624 264L630 266M630 266L630 266M624 281L625 276M613 274L621 272M618 266L622 265M612 261L621 259M623 261L624 264M635 255L630 266M640 267L630 266M635 285L632 281M635 285L642 277M632 281L633 276M633 276L641 275M642 277L641 275M624 281L632 281M635 287L635 285M644 280L642 277M630 273L633 276M643 272L641 275M615 247L614 252M615 247L608 243M608 243L605 247M605 247L611 253M611 253L614 252M621 257L614 252M617 246L615 247M608 240L607 242M607 242L608 243M601 252L602 250M602 250L605 247M609 257L611 253M514 447L518 451M514 447L507 452M507 452L504 457M518 452L511 460M518 452L518 451M504 457L507 460M511 460L507 460M515 463L511 460M521 461L518 452M507 470L507 460M492 482L494 463M494 463L500 457M500 457L504 457M550 459L549 458M541 466L540 460M549 458L540 460M556 450L550 452M549 458L550 452M531 460L539 459M540 460L539 459M522 443L520 451M522 443L530 444M530 444L530 445M530 445L527 451M520 451L527 451M530 459L527 451M531 445L530 445M531 445L539 454M539 454L539 459M518 451L520 451M538 420L532 424M538 420L540 428M532 432L536 433M532 432L531 428M532 424L531 428M536 433L540 428M539 418L538 420M539 418L539 418M545 420L546 428M540 428L546 428M556 438L547 433M557 426L547 429M547 433L547 429M547 429L546 428M536 433L538 435M547 433L545 435M545 435L538 435M539 418L529 415M532 424L527 420M527 420L529 415M534 407L528 413M529 415L528 413M521 426L516 424M521 426L523 425M523 425L525 420M517 418L516 424M517 418L522 418M522 418L525 420M531 428L523 425M527 420L525 420M528 413L525 411M525 411L522 418M550 395L547 391M538 396L538 393M538 393L547 391M553 382L548 384M547 391L548 384M545 374L546 382M548 384L546 382M478 390L475 383M478 390L484 392M484 392L491 382M475 382L475 383M475 382L483 376M491 382L488 376M488 376L483 376M458 387L460 389M459 381L475 383M476 391L478 390M486 397L480 406M480 406L470 400M485 392L484 392M495 382L491 382M458 375L470 373M470 373L474 377M474 377L475 382M474 377L479 372M479 372L483 376M489 369L488 376M487 367L477 367M479 372L477 367M446 459L447 466M446 459L457 459M447 466L456 475M456 475L459 462M459 462L457 459M438 467L447 466M445 457L446 459M453 448L457 459M457 479L456 475M473 455L474 456M471 455L459 462M474 456L475 464M469 427L473 421M469 427L471 431M484 432L484 431M484 431L473 421M480 406L480 414M490 399L490 410M490 410L485 417M485 417L480 414M471 415L474 416M480 414L474 416M474 456L483 454M483 439L488 443M488 443L483 454M494 463L488 457M483 454L488 457M427 337L420 339M415 327L417 322M415 327L415 332M420 339L415 332M415 327L411 327M403 338L403 336M403 338L406 340M415 332L406 340M411 327L403 336M465 437L452 426M451 427L451 426M452 426L451 426M469 427L455 424M452 426L455 424M440 429L448 425M451 426L448 425M459 418L457 419M473 421L474 416M457 419L455 424M463 403L453 405M457 419L453 405M444 397L443 403M453 405L443 403M409 393L410 385M409 393L412 396M412 396L421 389M412 384L410 385M412 384L420 389M420 389L421 389M400 385L405 383M405 383L410 385M402 394L409 393M413 405L412 396M425 394L417 406M425 394L425 394M425 394L421 389M437 385L425 394M422 385L420 389M438 356L436 353M438 356L447 354M436 353L438 349M447 348L448 348M447 354L448 348M441 365L450 358M438 356L437 359M447 354L450 358M457 367L458 362M450 358L458 362M452 325L457 336M461 325L461 329M461 329L457 336M445 334L457 337M446 342L458 339M458 339L457 337M457 336L457 337M480 324L473 328M480 324L481 335M481 336L481 335M481 336L472 328M472 328L473 328M480 317L481 323M481 323L480 324M472 327L473 328M461 329L470 333M470 333L472 328M490 310L492 317M481 323L487 324M487 324L492 317M506 323L500 324M499 315L497 319M500 324L497 319M497 319L492 317M612 481L619 467M609 471L616 464M619 467L616 464M609 461L616 464M615 451L619 458M619 458L616 464M625 452L623 457M619 458L623 457M616 464L616 464M640 444L641 450M631 451L632 452M632 452L641 450M649 463L641 459M647 453L643 453M641 459L643 453M643 453L641 450M600 240L598 235M600 240L598 244M598 235L588 242M598 244L590 247M588 242L590 247M590 247L590 247M598 231L598 235M607 242L600 240M602 250L598 244M587 241L588 242M593 252L590 247M582 251L590 247M540 95L558 89M540 95L539 93M562 84L558 89M552 99L558 89M539 102L540 95M531 92L539 93M513 445L505 442M513 445L514 447M507 452L502 445M505 442L502 445M500 457L497 447M502 445L497 447M488 443L493 443M488 457L496 446M493 443L496 446M497 447L496 446M519 440L515 441M519 440L524 434M515 441L512 435M512 435L516 432M516 432L522 432M524 434L522 432M513 445L515 441M522 443L519 440M527 435L530 444M527 435L524 434M514 425L516 424M514 425L516 432M521 426L522 432M527 435L532 432M536 443L538 441M536 443L541 450M538 441L547 444M541 450L547 446M547 446L548 444M548 444L547 444M531 445L536 443M538 435L538 441M539 454L541 450M545 435L547 444M550 452L547 446M557 441L548 444M517 410L512 407M517 410L521 407M512 407L513 398M523 404L521 407M523 404L520 399M520 399L514 397M514 397L513 398M516 417L517 418M516 417L517 410M525 411L521 407M531 403L523 404M524 395L520 399M524 395L527 394M527 394L532 401M524 395L520 389M513 396L514 397M503 399L505 401M505 401L513 398M516 417L505 416M512 407L506 410M505 416L506 410M505 401L505 409M505 409L506 410M498 404L499 407M505 409L499 407M490 410L496 410M499 407L496 410M530 389L537 392M530 389L529 385M537 392L540 382M530 382L537 380M530 382L529 385M537 380L540 382M527 394L530 389M538 393L537 392M522 385L529 385M546 382L540 382M528 377L530 382M538 376L537 380M418 345L414 348M418 345L428 349M414 348L414 355M414 355L421 360M428 350L428 349M428 350L423 360M423 360L421 360M420 339L418 345M406 340L407 344M407 344L414 348M431 342L428 349M436 353L428 350M425 361L423 360M423 376L418 375M421 360L418 368M418 368L418 375M412 384L415 376M418 375L415 376M394 340L403 338M394 340L390 347M407 344L400 349M400 349L390 347M371 361L378 355M377 342L379 353M379 353L378 355M403 326L401 332M403 326L398 318M401 332L391 330M398 318L388 327M388 327L391 330M411 327L403 326M403 336L401 332M398 316L398 318M394 340L391 330M384 327L388 327M390 347L379 353M434 419L447 423M434 419L437 405M447 423L442 404M442 404L438 405M437 405L438 405M430 420L434 419M448 425L447 423M426 409L437 405M443 403L442 404M425 394L438 405M470 373L475 365M477 367L475 365M475 365L475 365M458 362L459 362M475 365L460 361M459 362L460 361M487 329L488 334M487 329L487 325M487 325L496 328M488 334L495 334M496 328L496 331M496 331L495 334M481 335L487 329M487 324L487 325M500 324L496 328M496 341L495 334M487 342L485 339M485 339L488 334M504 334L496 331M619 467L624 469M623 457L629 460M629 460L624 469M632 452L631 459M629 460L631 459M625 470L624 469M505 417L497 418M505 417L508 426M508 426L504 431M497 418L490 424M498 432L502 432M498 432L490 425M490 424L490 425M504 431L502 432M505 416L505 417M496 410L497 418M514 425L508 426M512 435L504 431M485 417L490 424M505 442L502 432M493 443L498 432M484 431L490 425M412 367L412 374M412 367L405 361M405 361L405 361M405 361L400 365M405 372L412 374M405 372L400 367M400 367L400 365M418 368L412 367M415 376L412 374M414 355L405 361M400 349L405 361M405 383L405 372M392 380L400 367M640 460L633 460M640 460L641 469M633 460L634 469M641 469L635 469M635 469L634 469M641 459L640 460M631 459L633 460M643 470L641 469M625 470L634 469M460 345L459 340M460 345L455 350M450 348L455 350M450 348L459 340M459 340L459 340M459 362L455 350M460 361L465 353M465 353L460 345M448 348L450 348M458 339L459 340M470 333L470 339M470 339L459 340M475 365L476 362M465 353L469 352M469 352L476 362M487 359L482 355M476 362L482 355M487 347L482 353M482 355L482 353M477 349L473 348M477 349L483 339M473 348L471 340M471 340L481 337M481 337L483 339M469 352L473 348M482 353L477 349M485 339L483 339M470 339L471 340M481 336L481 337" fill="none" stroke="#000" stroke-width="0.8" clip-path="url(#usclip)"/>
<clipPath id="caclip"><polygon points="84,191 132.5,201.5 121,241 154,296 156,341 161,336 130,335 127,322 117,307 99,302 97,292 90,275 89,262 85,247 80,230 77,212"/></clipPath>
<path d="M169 198L156 187M76 335L76 326M72 322L76 326M78 336L76 335M141 337L156 336M156 258L155 248M155 248L176 238M124 294L130 284M124 294L117 292M117 292L116 284M130 284L118 279M118 279L116 284M132 283L132 273M132 283L130 284M124 270L132 273M124 270L118 273M118 273L118 279M142 255L156 258M142 255L138 258M156 258L156 265M141 270L138 258M141 270L142 270M142 270L156 265M132 283L140 287M132 273L141 270M140 287L146 281M142 270L146 281M77 245L81 243M81 243L80 228M80 228L80 228M90 226L80 228M90 226L95 231M95 231L91 245M91 245L81 243M169 198L154 204M156 187L151 194M151 194L154 204M154 204L154 204M158 215L154 204M51 230L41 227M80 228L77 218M74 252L77 245M75 190L91 191M75 190L75 190M100 332L92 332M100 332L105 338M90 336L92 332M87 323L90 316M87 323L92 332M105 323L90 316M105 323L100 332M78 336L90 336M76 326L87 323M105 338L115 336M117 338L115 336M117 338L128 336M141 337L139 334M139 334L130 334M128 336L130 334M156 321L155 320M155 320L155 311M156 335L156 321M156 336L156 335M139 334L141 324M141 324L142 323M142 323L155 320M226 289L244 291M163 296L153 307M153 307L155 311M139 313L146 304M139 313L126 308M129 299L139 296M129 299L126 308M139 296L144 299M144 299L146 304M142 323L139 313M153 307L146 304M140 287L139 296M124 294L129 299M154 291L151 283M154 291L144 299M146 281L151 283M163 296L154 291M127 321L123 325M127 321L125 309M125 309L118 310M118 310L112 315M123 325L116 326M116 326L110 321M112 315L110 319M110 319L110 321M141 324L127 321M130 334L123 325M126 308L125 309M110 297L118 310M110 297L117 292M110 297L104 297M102 303L104 297M102 303L112 315M115 336L116 326M105 323L110 321M102 303L96 308M96 308L110 319M90 316L89 310M96 308L89 310M157 266L155 280M226 289L221 288M151 283L155 280M156 258L156 258M156 265L157 266M90 226L90 220M90 220L87 215M77 218L77 218M87 215L77 218M77 218L73 207M75 190L77 203M77 203L73 207M95 231L105 229M102 245L104 244M102 245L91 245M104 244L109 231M91 245L91 245M105 229L109 231M151 194L140 192M72 322L74 310M89 310L87 309M87 309L76 309M74 310L76 309M74 310L60 302M104 297L101 293M116 284L104 282M101 293L104 282M118 273L113 270M113 270L104 269M104 282L103 282M103 282L102 272M104 269L102 272M102 245L105 258M91 245L92 255M105 258L104 260M104 260L92 255M74 252L77 256M77 256L91 256M92 255L91 256M87 215L87 210M77 203L83 204M83 204L87 210M91 191L94 194M83 204L94 194M90 220L104 214M87 210L101 206M104 214L101 206M105 229L105 216M104 214L105 216M118 242L131 244M118 242L115 249M115 249L116 253M131 244L128 255M117 253L116 253M117 253L126 256M128 255L126 256M104 244L115 249M116 232L109 231M116 232L116 232M116 232L118 242M105 258L116 253M113 270L117 253M104 269L104 260M124 270L126 256M138 258L128 255M142 255L145 243M155 248L149 242M145 243L149 242M87 309L87 296M76 309L77 294M87 296L77 294M101 293L90 291M87 296L90 291M103 282L88 283M90 291L88 283M60 302L74 292M74 292L77 294M74 292L75 282M94 194L97 194M101 206L101 205M101 205L97 194M101 188L97 194M101 188L117 190M154 204L142 208M142 208L140 207M140 192L138 193M138 193L140 207M116 232L118 216M105 216L117 214M118 216L117 214M176 238L155 231M158 215L154 222M154 222L155 231M149 242L154 231M155 231L154 231M116 232L123 232M131 244L132 243M123 232L132 243M145 243L138 240M132 243L138 240M77 281L86 281M77 281L75 268M86 281L92 272M75 268L77 266M77 266L88 266M88 266L92 272M88 283L86 281M75 282L77 281M102 272L92 272M77 256L77 266M91 256L88 266M116 200L117 191M116 200L120 205M120 205L129 206M129 206L132 193M117 191L126 190M126 190L132 193M101 205L116 200M117 190L117 191M117 214L120 205M138 193L132 193M140 207L132 208M132 208L129 206M130 227L136 230M130 227L129 219M131 217L129 219M131 217L142 218M142 218L143 219M143 219L137 229M137 229L136 230M123 232L130 227M138 240L136 230M118 216L129 219M132 208L131 217M142 208L142 218M154 222L143 219M154 231L137 229" fill="none" stroke="#000" stroke-width="0.8" clip-path="url(#caclip)"/>
<polygon points="105,246 120,242 154,295 131,291 127,267 121,264 112,271 106,271 110,260" fill="#FFFFFF" stroke="#000" stroke-width="0.8"/>
<polygon points="103.1,160.6 109.25,158.9 116.25,161.5 116.25,165 105.75,165.9" fill="#FFFFFF" stroke="#000" stroke-width="0.8"/>
<polygon points="90,184.25 95.25,183.4 96.1,189.5 91.75,193 89,192.1" fill="#FFFFFF" stroke="#000" stroke-width="0.8"/>
<polygon points="177.5,201 189,202.5 185,212.5 177.5,211" fill="#FFFFFF" stroke="#000" stroke-width="0.8"/>
<polygon points="204,204 209,204 210,215 206,215" fill="#FFFFFF" stroke="#000" stroke-width="0.8"/>
<polygon points="484,171 477.5,176.25 472.5,180 469.4,186.25 467.5,197.5 470,207.5 471.25,217.5 467.5,226.25 462.5,229.4 458.75,223.75 455.6,212.5 455,201.25 456.9,190 460,180 463,174.5 465,171 470,169.5 480,170" fill="#FFFFFF" stroke="#000" stroke-width="0.8"/>
<polygon points="452,188.5 461,175 463.5,173 462,177 453.5,189.5" fill="#FFFFFF" stroke="#000" stroke-width="0.8"/>
<polygon points="254,204 270,204 270,217 254,217" fill="#FFFFFF" stroke="#000" stroke-width="0.8"/>
<polygon points="275.5,231 288,231 288,239 275.5,238" fill="#FFFFFF" stroke="#000" stroke-width="0.8"/>
<polygon points="257.5,307.5 264.5,307.5 264,321 257.5,320" fill="#FFFFFF" stroke="#000" stroke-width="0.8"/>
<polygon points="584.4,260 586.9,260 590,270 590.5,278 588,277 586.9,270" fill="#FFFFFF" stroke="#000" stroke-width="0.8"/>
<polygon points="580.6,246.25 582.5,247.5 583.75,255 581.9,253.75" fill="#FFFFFF" stroke="#000" stroke-width="0.8"/>
<polygon points="598,246.5 593,241 591.5,242.5 595.5,248.5" fill="#FFFFFF" stroke="#000" stroke-width="0.8"/>
<polygon points="534,400 542.5,400 542.5,406 534,405" fill="#FFFFFF" stroke="#000" stroke-width="0.8"/>
<polygon points="146,412 156,410 164,414 156,418 147,417" fill="#FFFFFF" stroke="#000" stroke-width="0.8"/>
<polygon points="443.9,191.25 450,190.4 451.75,202.6 443.9,202.6" fill="#FFFFFF" stroke="#000" stroke-width="0.8"/>
<polygon points="439.5,215 445.6,215 445.6,219.25 440.4,219.25" fill="#FFFFFF" stroke="#000" stroke-width="0.8"/>
<polygon points="423,219.25 426.4,219.25 426.4,222.75 423,222.75" fill="#FFFFFF" stroke="#000" stroke-width="0.8"/>
<polygon points="409.75,267.9 414,267 414,273 410.6,274" fill="#FFFFFF" stroke="#000" stroke-width="0.8"/>
<polygon points="460.5,294 467.5,293.25 468.4,298.5 464.9,300.25 460.5,298.5" fill="#FFFFFF" stroke="#000" stroke-width="0.8"/>
<polygon points="461.4,323.9 471,323 479.75,322 481.5,326.5 471,330 462.25,328.25" fill="#FFFFFF" stroke="#000" stroke-width="0.8"/>
<polygon points="478.9,260.9 482.4,260.9 482.4,263.5 478.9,263.5" fill="#FFFFFF" stroke="#000" stroke-width="0.8"/>
<polygon points="400,390.5 413.25,390.5 415,388.75 423.75,390.5 427.25,395.75 420.25,399.25 411.5,397.5 400,398" fill="#FFFFFF" stroke="#000" stroke-width="0.8"/>
<polygon points="462.25,323 480.6,322.25 481.5,327.5 469.25,331 462.25,327.5" fill="#FFFFFF" stroke="#000" stroke-width="0.8"/>
<polygon points="468.4,338 478,332.75 488.5,333.6 490.25,338 485,340.6 481.5,352 474.5,352 475.4,343.25" fill="#FFFFFF" stroke="#000" stroke-width="0.8"/>
<polygon points="479.75,353.75 489.4,352.9 490.25,362.5 480.6,362.5" fill="#FFFFFF" stroke="#000" stroke-width="0.8"/>
<polygon points="463,377.4 467.5,377.4 467.5,387 463.6,387" fill="#FFFFFF" stroke="#000" stroke-width="0.8"/>
<polygon points="536.4,307.25 540.75,300.25 546,303.75 547.75,312.5 540.75,319.5 536.4,317.75 538,311.6" fill="#FFFFFF" stroke="#000" stroke-width="0.8"/>
<polygon points="574,313.4 579.25,312.5 580,316 576.6,318.6" fill="#FFFFFF" stroke="#000" stroke-width="0.8"/>
<polygon points="514.5,331 519,328.25 521.5,332.6 517,335.25" fill="#FFFFFF" stroke="#000" stroke-width="0.8"/>
<polygon points="510,345 516.25,344 518,351 511,352" fill="#FFFFFF" stroke="#000" stroke-width="0.8"/>
<polygon points="491.75,352.75 498,351 498,354.5 492.6,355.4" fill="#FFFFFF" stroke="#000" stroke-width="0.8"/>
<polygon points="496,366.75 500.5,365 501.4,373.75 497,374.6 490,375.5 490,372" fill="#FFFFFF" stroke="#000" stroke-width="0.8"/>
<polygon points="293.5,365.9 298.75,365.9 298.75,371.1 293.5,371.1" fill="#FFFFFF" stroke="#000" stroke-width="0.8"/>
<polygon points="550.6,232.5 555,230.6 555,236.25 551.25,236.9" fill="#FFFFFF" stroke="#000" stroke-width="0.8"/>
<polygon points="575,232.5 580,231.25 583.1,235 580,238.75 576.25,236.25" fill="#FFFFFF" stroke="#000" stroke-width="0.8"/>
<polygon points="568.1,238.75 571.9,238.1 571.9,241.25 568.75,241.9" fill="#FFFFFF" stroke="#000" stroke-width="0.8"/>
<polygon points="553.75,248.75 562.5,248.1 562.5,251.9 554.4,251.9" fill="#FFFFFF" stroke="#000" stroke-width="0.8"/>
<polygon points="525,255 528.75,255 529.4,259.4 526.25,258.75" fill="#FFFFFF" stroke="#000" stroke-width="0.8"/>
<polygon points="591.25,241.25 595,241.25 595,245 591.9,244.4" fill="#FFFFFF" stroke="#000" stroke-width="0.8"/>
<polygon points="535,307.5 540,306.9 540,311.9 535.6,311.9" fill="#FFFFFF" stroke="#000" stroke-width="0.8"/>
<polygon points="511.25,233.75 515,233.75 515.6,238.75 511.9,238.1" fill="#FFFFFF" stroke="#000" stroke-width="0.8"/>
<polygon points="495,236.9 498.75,236.9 498.75,239.4 495,239.4" fill="#FFFFFF" stroke="#000" stroke-width="0.8"/>
<polygon points="493.75,195 497.5,193.75 496.9,198.75 493.1,199.4" fill="#FFFFFF" stroke="#000" stroke-width="0.8"/>
<polyline points="101,139 108,141 113,146 120,147 137,150 165,151 169,152.5" fill="none" stroke="#000" stroke-width="0.9"/>
<polyline points="174,114 169,152.5 171,162 162,175 161,185 157.5,206" fill="none" stroke="#000" stroke-width="0.9"/>
<polyline points="84,191 132.5,201.5 157.5,206 186,213 219,220" fill="none" stroke="#000" stroke-width="0.9"/>
<polyline points="132.5,201.5 121,241 154,296" fill="none" stroke="#000" stroke-width="0.9"/>
<polyline points="186,213 177,282" fill="none" stroke="#000" stroke-width="0.9"/>
<polyline points="154,296 158,290 160,283 177,282 230,290 307.5,296" fill="none" stroke="#000" stroke-width="0.9"/>
<polyline points="182.5,115 185,127 190,140 196,144 192.5,162 195,165 199,157 204,172 207.5,182 222,177" fill="none" stroke="#000" stroke-width="0.9"/>
<polyline points="222,177 255,182.5 291,184.5" fill="none" stroke="#000" stroke-width="0.9"/>
<polyline points="222,177 218,232 291,240" fill="none" stroke="#000" stroke-width="0.9"/>
<polyline points="219,220 218,232" fill="none" stroke="#000" stroke-width="0.9"/>
<polyline points="234,236 230,290 224,350 220,368" fill="none" stroke="#000" stroke-width="0.9"/>
<polyline points="295,131 293,173 291,212.5 289,240 309.5,241 307.5,296" fill="none" stroke="#000" stroke-width="0.9"/>
<polyline points="293,173 366,175" fill="none" stroke="#000" stroke-width="0.9"/>
<polyline points="291,212.5 350,215.5 362,219 367,217" fill="none" stroke="#000" stroke-width="0.9"/>
<polyline points="361,134 364,150 366,175 367,217 375,240 381,259 387.5,270 387.5,299" fill="none" stroke="#000" stroke-width="0.9"/>
<polyline points="309,255 381,259" fill="none" stroke="#000" stroke-width="0.9"/>
<polyline points="296,297.5 295,304 329,305 329,314 340,330 352,340 370,342.5 392.5,345" fill="none" stroke="#000" stroke-width="0.9"/>
<polyline points="296,297.5 294,364" fill="none" stroke="#000" stroke-width="0.9"/>
<polyline points="307.5,296 387.5,299 392.5,345" fill="none" stroke="#000" stroke-width="0.9"/>
<polyline points="127.5,425 152.5,424 150,435 126,434 127.5,425" fill="none" stroke="#000" stroke-width="0.9"/>
<polyline points="140,150 135,172.5 137.5,175 131,190 135,200" fill="none" stroke="#000" stroke-width="0.9"/>
<polyline points="117.5,150 116,166" fill="none" stroke="#000" stroke-width="0.9"/>
<polyline points="91,172 112,176 130,179" fill="none" stroke="#000" stroke-width="0.9"/>
<polyline points="111,176 105,195" fill="none" stroke="#000" stroke-width="0.9"/>
<polyline points="312.5,160 317.5,156 337.5,156 337.5,162.5 334,162.5 334,172.5 326,172.5 326,165 320,167.5 315,164 312.5,160" fill="none" stroke="#000" stroke-width="0.9"/>
<polyline points="310,213 309,255" fill="none" stroke="#000" stroke-width="0.9"/>
<polyline points="330,215 331,225 344,226 345,231" fill="none" stroke="#000" stroke-width="0.9"/>
<polyline points="345,289 355,282.5 366,284 366,291 359,297.5 350,294 345,289" fill="none" stroke="#000" stroke-width="0.9"/>
<polyline points="226,310 222.5,344 240,342.5 241,326 267.5,327.5" fill="none" stroke="#000" stroke-width="0.9"/>
<polyline points="267.5,320 287.5,320 290,365" fill="none" stroke="#000" stroke-width="0.9"/>
<polyline points="242.5,351 252.5,349 250,364" fill="none" stroke="#000" stroke-width="0.9"/>
<polyline points="335,175 337.5,187.5 345,190 344,205 350,210 350,215" fill="none" stroke="#000" stroke-width="0.9"/>
<polyline points="162,175 180,177.5" fill="none" stroke="#000" stroke-width="0.9"/>
<polyline points="205,182 207,205" fill="none" stroke="#000" stroke-width="0.9"/>
<polyline points="269,365 290,365" fill="none" stroke="#000" stroke-width="0.9"/>
<polyline points="267.5,385 275,383 290,384" fill="none" stroke="#000" stroke-width="0.9"/>
<polyline points="366.75,208 419,208" fill="none" stroke="#000" stroke-width="0.9"/>
<polyline points="375,248 421,248" fill="none" stroke="#000" stroke-width="0.9"/>
<polyline points="405.25,180.5 417.5,192.75 421,208.5 424.5,220.75 421,240 419.25,250.5 428,264.5 436,272 441,282 445,296 452,305 449,320 446,332 441,350 443,368 440,385" fill="none" stroke="#000" stroke-width="0.9"/>
<polyline points="424.5,224 457,224" fill="none" stroke="#000" stroke-width="0.9"/>
<polyline points="462,229.5 463,262 460,278 462,292" fill="none" stroke="#000" stroke-width="0.9"/>
<polyline points="490,226 489,262" fill="none" stroke="#000" stroke-width="0.9"/>
<polyline points="387.5,299 443,301" fill="none" stroke="#000" stroke-width="0.9"/>
<polyline points="392.5,345 394,372 400,392" fill="none" stroke="#000" stroke-width="0.9"/>
<polyline points="394,351 438,351" fill="none" stroke="#000" stroke-width="0.9"/>
<polyline points="461,322 496,320 530,318" fill="none" stroke="#000" stroke-width="0.9"/>
<polyline points="444,303 500,298 560,290 592,287" fill="none" stroke="#000" stroke-width="0.9"/>
<polyline points="461,322 463,377 463,388" fill="none" stroke="#000" stroke-width="0.9"/>
<polyline points="494,322 500,375" fill="none" stroke="#000" stroke-width="0.9"/>
</svg>
<div class="title">Location quotient of bus drivers, school, by area, May 2023</div>
<div class="lt">Location quotient</div>
<div class="sw" style="left:471px;top:533px;background:#FFC0CB"></div><div class="li" style="left:485.5px;top:531px">0.10 - 0.40</div>
<div class="sw" style="left:575px;top:533px;background:#BC8F8F"></div><div class="li" style="left:588.5px;top:531px">0.40 - 0.80</div>
<div class="sw" style="left:471px;top:548px;background:#CD5C5C"></div><div class="li" style="left:485.5px;top:546px">0.80 - 1.25</div>
<div class="sw" style="left:575px;top:548px;background:#B22222"></div><div class="li" style="left:588.5px;top:546px">1.25 - 2.50</div>
<div class="sw" style="left:471px;top:563px;background:#8B0000"></div><div class="li" style="left:485.5px;top:561px">2.50 - 3.95</div>
<div class="foot">Blank areas indicate data not available.</div>
</body></html>
